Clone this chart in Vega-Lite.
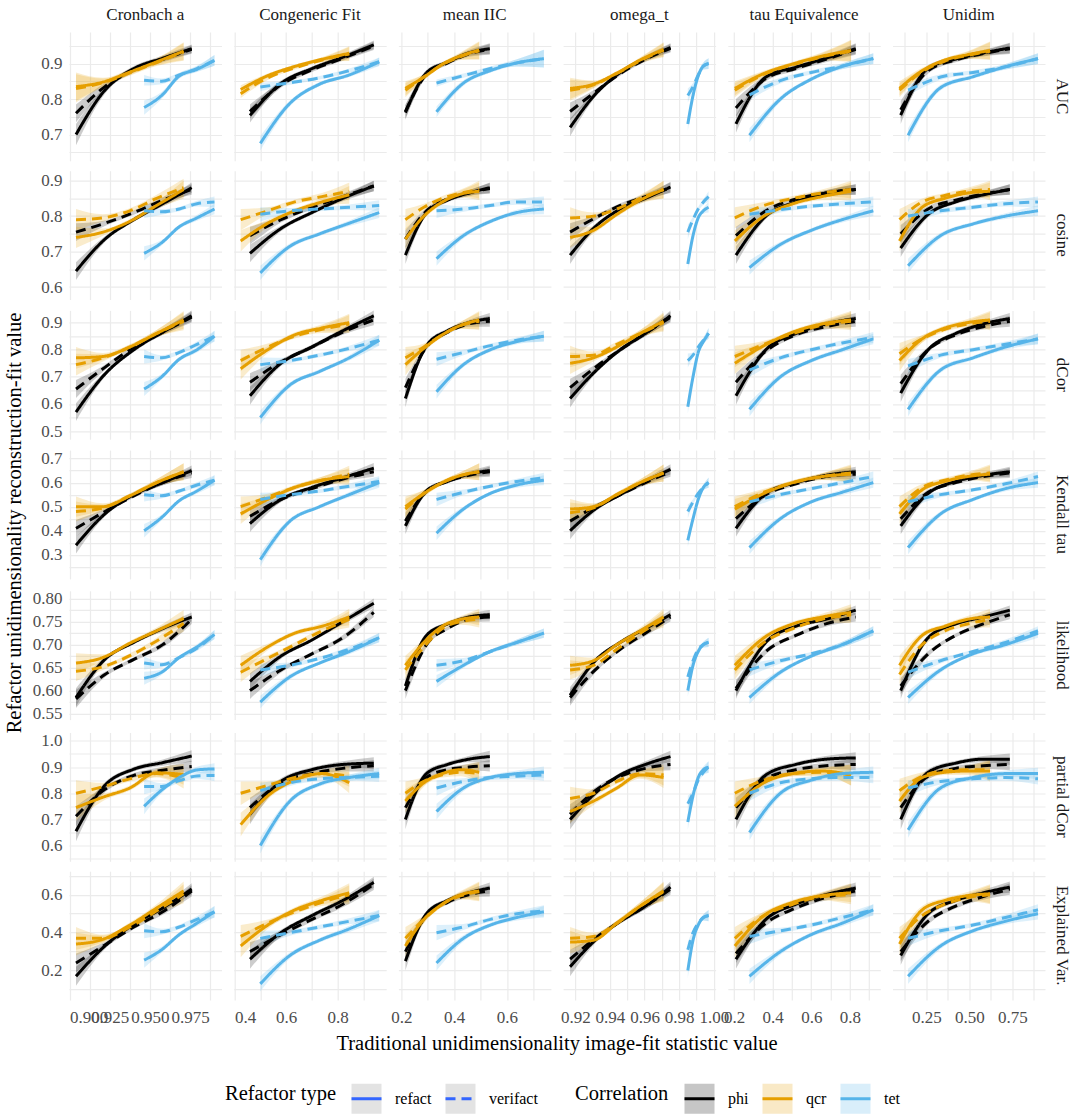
{
  "$schema": "https://vega.github.io/schema/vega-lite/v6.json",
  "background": "white",
  "padding": {"left": 4, "top": 6, "right": 0, "bottom": 0},
  "title": {"text": "Refactor unidimensionality reconstruction-fit value", "orient": "left", "anchor": "middle", "font": "Liberation Serif", "fontSize": 20.5, "fontWeight": "normal", "color": "#000000", "offset": 4, "dx": 40},
  "config": {
    "font": "Liberation Serif",
    "view": {"stroke": null},
    "axis": {"domain": false, "ticks": false, "grid": true, "gridColor": "#EBEBEB", "gridWidth": 1.2, "labelFont": "Liberation Serif", "labelFontSize": 17, "labelColor": "#4D4D4D", "title": null},
    "header": {"labelFont": "Liberation Serif", "labelFontSize": 17, "labelColor": "#1A1A1A", "titleFont": "Liberation Serif", "titleFontSize": 20.5, "titleFontWeight": "normal", "titleColor": "#000000"},
    "legend": {"direction": "horizontal", "titleOrient": "left", "titleFont": "Liberation Serif", "titleFontSize": 20.5, "titleFontWeight": "normal", "titleColor": "#000000", "titlePadding": 14, "labelFont": "Liberation Serif", "labelFontSize": 16, "labelColor": "#000000", "labelOffset": 12, "symbolType": "stroke", "symbolStrokeWidth": 3, "symbolSize": 900, "symbolOpacity": 1, "columnPadding": 7}
  },
  "datasets": {
    "xs": [
      {"ck": "Cronbach a|phi", "x": [0.904, 0.922, 0.94, 0.958, 0.976]},
      {"ck": "Cronbach a|qcr", "x": [0.904, 0.9208, 0.9375, 0.9542, 0.971]},
      {"ck": "Cronbach a|tet", "x": [0.9464, 0.9573, 0.9683, 0.9793, 0.9902]},
      {"ck": "Congeneric Fit|phi", "x": [0.46, 0.58, 0.7, 0.82, 0.94]},
      {"ck": "Congeneric Fit|qcr", "x": [0.424, 0.529, 0.634, 0.739, 0.845]},
      {"ck": "Congeneric Fit|tet", "x": [0.5, 0.615, 0.73, 0.845, 0.961]},
      {"ck": "mean IIC|phi", "x": [0.215, 0.295, 0.375, 0.455, 0.535]},
      {"ck": "mean IIC|qcr", "x": [0.215, 0.285, 0.355, 0.425, 0.495]},
      {"ck": "mean IIC|tet", "x": [0.333, 0.435, 0.537, 0.638, 0.74]},
      {"ck": "omega_t|phi", "x": [0.917, 0.9315, 0.946, 0.9605, 0.975]},
      {"ck": "omega_t|qcr", "x": [0.917, 0.9305, 0.944, 0.9575, 0.971]},
      {"ck": "omega_t|tet", "x": [0.985, 0.988, 0.991, 0.994, 0.997]},
      {"ck": "tau Equivalence|phi", "x": [0.21, 0.365, 0.52, 0.675, 0.83]},
      {"ck": "tau Equivalence|qcr", "x": [0.204, 0.355, 0.505, 0.655, 0.806]},
      {"ck": "tau Equivalence|tet", "x": [0.28, 0.44, 0.6, 0.76, 0.921]},
      {"ck": "Unidim|phi", "x": [0.1, 0.26, 0.42, 0.58, 0.735]},
      {"ck": "Unidim|qcr", "x": [0.093, 0.225, 0.357, 0.489, 0.62]},
      {"ck": "Unidim|tet", "x": [0.143, 0.332, 0.521, 0.71, 0.899]}
    ],
    "lines": [
      {"r": "AUC", "c": "Cronbach a", "k": "phi", "t": "refact", "ck": "Cronbach a|phi", "y": [0.7, 0.825, 0.886, 0.915, 0.942], "w": [0.03, 0.01, 0.007, 0.008, 0.012]},
      {"r": "AUC", "c": "Cronbach a", "k": "phi", "t": "verifact", "ck": "Cronbach a|phi", "y": [0.76, 0.835, 0.882, 0.912, 0.94], "w": [0.025, 0.01, 0.007, 0.008, 0.012]},
      {"r": "AUC", "c": "Cronbach a", "k": "qcr", "t": "refact", "ck": "Cronbach a|qcr", "y": [0.835, 0.848, 0.876, 0.905, 0.935], "w": [0.04, 0.012, 0.008, 0.01, 0.025]},
      {"r": "AUC", "c": "Cronbach a", "k": "qcr", "t": "verifact", "ck": "Cronbach a|qcr", "y": [0.83, 0.846, 0.874, 0.903, 0.933], "w": [0.04, 0.012, 0.008, 0.01, 0.025]},
      {"r": "AUC", "c": "Cronbach a", "k": "tet", "t": "refact", "ck": "Cronbach a|tet", "y": [0.776, 0.81, 0.865, 0.884, 0.909], "w": [0.02, 0.01, 0.008, 0.008, 0.015]},
      {"r": "AUC", "c": "Cronbach a", "k": "tet", "t": "verifact", "ck": "Cronbach a|tet", "y": [0.853, 0.85, 0.868, 0.886, 0.909], "w": [0.015, 0.008, 0.006, 0.008, 0.015]},
      {"r": "AUC", "c": "Congeneric Fit", "k": "phi", "t": "refact", "ck": "Congeneric Fit|phi", "y": [0.754, 0.844, 0.886, 0.918, 0.953], "w": [0.02, 0.008, 0.006, 0.007, 0.012]},
      {"r": "AUC", "c": "Congeneric Fit", "k": "phi", "t": "verifact", "ck": "Congeneric Fit|phi", "y": [0.765, 0.84, 0.882, 0.915, 0.95], "w": [0.02, 0.008, 0.006, 0.007, 0.012]},
      {"r": "AUC", "c": "Congeneric Fit", "k": "qcr", "t": "refact", "ck": "Congeneric Fit|qcr", "y": [0.827, 0.866, 0.892, 0.912, 0.929], "w": [0.012, 0.006, 0.005, 0.006, 0.02]},
      {"r": "AUC", "c": "Congeneric Fit", "k": "qcr", "t": "verifact", "ck": "Congeneric Fit|qcr", "y": [0.815, 0.86, 0.888, 0.91, 0.927], "w": [0.012, 0.006, 0.005, 0.006, 0.02]},
      {"r": "AUC", "c": "Congeneric Fit", "k": "tet", "t": "refact", "ck": "Congeneric Fit|tet", "y": [0.675, 0.788, 0.842, 0.868, 0.905], "w": [0.02, 0.008, 0.006, 0.006, 0.012]},
      {"r": "AUC", "c": "Congeneric Fit", "k": "tet", "t": "verifact", "ck": "Congeneric Fit|tet", "y": [0.834, 0.846, 0.86, 0.88, 0.905], "w": [0.012, 0.006, 0.005, 0.006, 0.012]},
      {"r": "AUC", "c": "mean IIC", "k": "phi", "t": "refact", "ck": "mean IIC|phi", "y": [0.762, 0.874, 0.904, 0.93, 0.942], "w": [0.02, 0.008, 0.006, 0.008, 0.015]},
      {"r": "AUC", "c": "mean IIC", "k": "phi", "t": "verifact", "ck": "mean IIC|phi", "y": [0.765, 0.87, 0.902, 0.927, 0.94], "w": [0.02, 0.008, 0.006, 0.008, 0.015]},
      {"r": "AUC", "c": "mean IIC", "k": "qcr", "t": "refact", "ck": "mean IIC|qcr", "y": [0.83, 0.862, 0.898, 0.922, 0.938], "w": [0.02, 0.008, 0.006, 0.01, 0.025]},
      {"r": "AUC", "c": "mean IIC", "k": "qcr", "t": "verifact", "ck": "mean IIC|qcr", "y": [0.825, 0.862, 0.897, 0.92, 0.936], "w": [0.02, 0.008, 0.006, 0.01, 0.025]},
      {"r": "AUC", "c": "mean IIC", "k": "tet", "t": "refact", "ck": "mean IIC|tet", "y": [0.764, 0.845, 0.88, 0.902, 0.914], "w": [0.015, 0.008, 0.006, 0.01, 0.025]},
      {"r": "AUC", "c": "mean IIC", "k": "tet", "t": "verifact", "ck": "mean IIC|tet", "y": [0.845, 0.866, 0.886, 0.902, 0.914], "w": [0.01, 0.006, 0.006, 0.01, 0.025]},
      {"r": "AUC", "c": "omega_t", "k": "phi", "t": "refact", "ck": "omega_t|phi", "y": [0.72, 0.813, 0.875, 0.915, 0.945], "w": [0.025, 0.008, 0.006, 0.007, 0.012]},
      {"r": "AUC", "c": "omega_t", "k": "phi", "t": "verifact", "ck": "omega_t|phi", "y": [0.765, 0.82, 0.872, 0.912, 0.943], "w": [0.025, 0.008, 0.006, 0.007, 0.012]},
      {"r": "AUC", "c": "omega_t", "k": "qcr", "t": "refact", "ck": "omega_t|qcr", "y": [0.83, 0.842, 0.873, 0.91, 0.94], "w": [0.03, 0.01, 0.006, 0.008, 0.02]},
      {"r": "AUC", "c": "omega_t", "k": "qcr", "t": "verifact", "ck": "omega_t|qcr", "y": [0.825, 0.84, 0.872, 0.908, 0.938], "w": [0.03, 0.01, 0.006, 0.008, 0.02]},
      {"r": "AUC", "c": "omega_t", "k": "tet", "t": "refact", "ck": "omega_t|tet", "y": [0.73, 0.81, 0.865, 0.893, 0.9], "w": [0.02, 0.01, 0.01, 0.01, 0.015]},
      {"r": "AUC", "c": "omega_t", "k": "tet", "t": "verifact", "ck": "omega_t|tet", "y": [0.81, 0.835, 0.868, 0.893, 0.9], "w": [0.02, 0.01, 0.01, 0.01, 0.015]},
      {"r": "AUC", "c": "tau Equivalence", "k": "phi", "t": "refact", "ck": "tau Equivalence|phi", "y": [0.73, 0.862, 0.89, 0.915, 0.942], "w": [0.025, 0.008, 0.006, 0.008, 0.015]},
      {"r": "AUC", "c": "tau Equivalence", "k": "phi", "t": "verifact", "ck": "tau Equivalence|phi", "y": [0.775, 0.858, 0.886, 0.912, 0.94], "w": [0.025, 0.008, 0.006, 0.008, 0.015]},
      {"r": "AUC", "c": "tau Equivalence", "k": "qcr", "t": "refact", "ck": "tau Equivalence|qcr", "y": [0.83, 0.872, 0.899, 0.921, 0.937], "w": [0.02, 0.008, 0.006, 0.01, 0.03]},
      {"r": "AUC", "c": "tau Equivalence", "k": "qcr", "t": "verifact", "ck": "tau Equivalence|qcr", "y": [0.825, 0.87, 0.897, 0.919, 0.935], "w": [0.02, 0.008, 0.006, 0.01, 0.03]},
      {"r": "AUC", "c": "tau Equivalence", "k": "tet", "t": "refact", "ck": "tau Equivalence|tet", "y": [0.698, 0.8, 0.856, 0.892, 0.914], "w": [0.02, 0.008, 0.006, 0.008, 0.015]},
      {"r": "AUC", "c": "tau Equivalence", "k": "tet", "t": "verifact", "ck": "tau Equivalence|tet", "y": [0.812, 0.852, 0.875, 0.893, 0.914], "w": [0.015, 0.008, 0.006, 0.008, 0.015]},
      {"r": "AUC", "c": "Unidim", "k": "phi", "t": "refact", "ck": "Unidim|phi", "y": [0.755, 0.887, 0.913, 0.93, 0.944], "w": [0.025, 0.008, 0.006, 0.008, 0.015]},
      {"r": "AUC", "c": "Unidim", "k": "phi", "t": "verifact", "ck": "Unidim|phi", "y": [0.77, 0.88, 0.91, 0.928, 0.942], "w": [0.025, 0.008, 0.006, 0.008, 0.015]},
      {"r": "AUC", "c": "Unidim", "k": "qcr", "t": "refact", "ck": "Unidim|qcr", "y": [0.83, 0.88, 0.91, 0.925, 0.937], "w": [0.02, 0.008, 0.006, 0.01, 0.025]},
      {"r": "AUC", "c": "Unidim", "k": "qcr", "t": "verifact", "ck": "Unidim|qcr", "y": [0.825, 0.877, 0.907, 0.923, 0.935], "w": [0.02, 0.008, 0.006, 0.01, 0.025]},
      {"r": "AUC", "c": "Unidim", "k": "tet", "t": "refact", "ck": "Unidim|tet", "y": [0.698, 0.832, 0.863, 0.891, 0.914], "w": [0.02, 0.008, 0.006, 0.008, 0.015]},
      {"r": "AUC", "c": "Unidim", "k": "tet", "t": "verifact", "ck": "Unidim|tet", "y": [0.825, 0.862, 0.875, 0.891, 0.914], "w": [0.015, 0.008, 0.006, 0.008, 0.015]},

      {"r": "cosine", "c": "Cronbach a", "k": "phi", "t": "refact", "ck": "Cronbach a|phi", "y": [0.645, 0.735, 0.79, 0.835, 0.88], "w": [0.025, 0.008, 0.006, 0.008, 0.015]},
      {"r": "cosine", "c": "Cronbach a", "k": "phi", "t": "verifact", "ck": "Cronbach a|phi", "y": [0.755, 0.78, 0.81, 0.845, 0.875], "w": [0.025, 0.008, 0.006, 0.008, 0.015]},
      {"r": "cosine", "c": "Cronbach a", "k": "qcr", "t": "refact", "ck": "Cronbach a|qcr", "y": [0.74, 0.755, 0.785, 0.83, 0.875], "w": [0.03, 0.01, 0.007, 0.01, 0.025]},
      {"r": "cosine", "c": "Cronbach a", "k": "qcr", "t": "verifact", "ck": "Cronbach a|qcr", "y": [0.79, 0.795, 0.815, 0.85, 0.88], "w": [0.03, 0.01, 0.007, 0.01, 0.025]},
      {"r": "cosine", "c": "Cronbach a", "k": "tet", "t": "refact", "ck": "Cronbach a|tet", "y": [0.695, 0.725, 0.77, 0.795, 0.82], "w": [0.02, 0.008, 0.006, 0.008, 0.015]},
      {"r": "cosine", "c": "Cronbach a", "k": "tet", "t": "verifact", "ck": "Cronbach a|tet", "y": [0.815, 0.812, 0.82, 0.835, 0.84], "w": [0.02, 0.008, 0.006, 0.008, 0.015]},
      {"r": "cosine", "c": "Congeneric Fit", "k": "phi", "t": "refact", "ck": "Congeneric Fit|phi", "y": [0.695, 0.765, 0.81, 0.85, 0.885], "w": [0.025, 0.008, 0.006, 0.008, 0.015]},
      {"r": "cosine", "c": "Congeneric Fit", "k": "phi", "t": "verifact", "ck": "Congeneric Fit|phi", "y": [0.745, 0.79, 0.825, 0.855, 0.885], "w": [0.025, 0.008, 0.006, 0.008, 0.015]},
      {"r": "cosine", "c": "Congeneric Fit", "k": "qcr", "t": "refact", "ck": "Congeneric Fit|qcr", "y": [0.73, 0.78, 0.815, 0.84, 0.86], "w": [0.03, 0.01, 0.007, 0.01, 0.025]},
      {"r": "cosine", "c": "Congeneric Fit", "k": "qcr", "t": "verifact", "ck": "Congeneric Fit|qcr", "y": [0.79, 0.815, 0.84, 0.855, 0.87], "w": [0.03, 0.01, 0.007, 0.01, 0.025]},
      {"r": "cosine", "c": "Congeneric Fit", "k": "tet", "t": "refact", "ck": "Congeneric Fit|tet", "y": [0.64, 0.715, 0.75, 0.78, 0.81], "w": [0.02, 0.008, 0.006, 0.008, 0.015]},
      {"r": "cosine", "c": "Congeneric Fit", "k": "tet", "t": "verifact", "ck": "Congeneric Fit|tet", "y": [0.805, 0.815, 0.82, 0.825, 0.83], "w": [0.02, 0.008, 0.006, 0.008, 0.015]},
      {"r": "cosine", "c": "mean IIC", "k": "phi", "t": "refact", "ck": "mean IIC|phi", "y": [0.69, 0.81, 0.845, 0.865, 0.88], "w": [0.025, 0.008, 0.006, 0.008, 0.015]},
      {"r": "cosine", "c": "mean IIC", "k": "phi", "t": "verifact", "ck": "mean IIC|phi", "y": [0.735, 0.815, 0.848, 0.865, 0.878], "w": [0.025, 0.008, 0.006, 0.008, 0.015]},
      {"r": "cosine", "c": "mean IIC", "k": "qcr", "t": "refact", "ck": "mean IIC|qcr", "y": [0.735, 0.8, 0.84, 0.862, 0.87], "w": [0.03, 0.01, 0.007, 0.01, 0.025]},
      {"r": "cosine", "c": "mean IIC", "k": "qcr", "t": "verifact", "ck": "mean IIC|qcr", "y": [0.79, 0.825, 0.85, 0.865, 0.875], "w": [0.03, 0.01, 0.007, 0.01, 0.025]},
      {"r": "cosine", "c": "mean IIC", "k": "tet", "t": "refact", "ck": "mean IIC|tet", "y": [0.68, 0.745, 0.785, 0.81, 0.82], "w": [0.02, 0.008, 0.006, 0.008, 0.015]},
      {"r": "cosine", "c": "mean IIC", "k": "tet", "t": "verifact", "ck": "mean IIC|tet", "y": [0.815, 0.82, 0.83, 0.84, 0.84], "w": [0.02, 0.008, 0.006, 0.008, 0.015]},
      {"r": "cosine", "c": "omega_t", "k": "phi", "t": "refact", "ck": "omega_t|phi", "y": [0.69, 0.77, 0.82, 0.85, 0.882], "w": [0.025, 0.008, 0.006, 0.008, 0.015]},
      {"r": "cosine", "c": "omega_t", "k": "phi", "t": "verifact", "ck": "omega_t|phi", "y": [0.755, 0.795, 0.83, 0.855, 0.88], "w": [0.025, 0.008, 0.006, 0.008, 0.015]},
      {"r": "cosine", "c": "omega_t", "k": "qcr", "t": "refact", "ck": "omega_t|qcr", "y": [0.74, 0.76, 0.805, 0.845, 0.875], "w": [0.03, 0.01, 0.007, 0.01, 0.025]},
      {"r": "cosine", "c": "omega_t", "k": "qcr", "t": "verifact", "ck": "omega_t|qcr", "y": [0.795, 0.8, 0.82, 0.85, 0.875], "w": [0.03, 0.01, 0.007, 0.01, 0.025]},
      {"r": "cosine", "c": "omega_t", "k": "tet", "t": "refact", "ck": "omega_t|tet", "y": [0.665, 0.745, 0.795, 0.815, 0.825], "w": [0.02, 0.008, 0.006, 0.008, 0.015]},
      {"r": "cosine", "c": "omega_t", "k": "tet", "t": "verifact", "ck": "omega_t|tet", "y": [0.755, 0.79, 0.82, 0.84, 0.855], "w": [0.02, 0.008, 0.006, 0.008, 0.015]},
      {"r": "cosine", "c": "tau Equivalence", "k": "phi", "t": "refact", "ck": "tau Equivalence|phi", "y": [0.69, 0.8, 0.84, 0.865, 0.875], "w": [0.025, 0.008, 0.006, 0.008, 0.015]},
      {"r": "cosine", "c": "tau Equivalence", "k": "phi", "t": "verifact", "ck": "tau Equivalence|phi", "y": [0.745, 0.815, 0.848, 0.865, 0.875], "w": [0.025, 0.008, 0.006, 0.008, 0.015]},
      {"r": "cosine", "c": "tau Equivalence", "k": "qcr", "t": "refact", "ck": "tau Equivalence|qcr", "y": [0.73, 0.8, 0.835, 0.855, 0.87], "w": [0.03, 0.01, 0.007, 0.01, 0.025]},
      {"r": "cosine", "c": "tau Equivalence", "k": "qcr", "t": "verifact", "ck": "tau Equivalence|qcr", "y": [0.795, 0.83, 0.85, 0.865, 0.875], "w": [0.03, 0.01, 0.007, 0.01, 0.025]},
      {"r": "cosine", "c": "tau Equivalence", "k": "tet", "t": "refact", "ck": "tau Equivalence|tet", "y": [0.655, 0.72, 0.76, 0.79, 0.815], "w": [0.02, 0.008, 0.006, 0.008, 0.015]},
      {"r": "cosine", "c": "tau Equivalence", "k": "tet", "t": "verifact", "ck": "tau Equivalence|tet", "y": [0.805, 0.818, 0.828, 0.835, 0.84], "w": [0.02, 0.008, 0.006, 0.008, 0.015]},
      {"r": "cosine", "c": "Unidim", "k": "phi", "t": "refact", "ck": "Unidim|phi", "y": [0.71, 0.805, 0.84, 0.86, 0.875], "w": [0.025, 0.008, 0.006, 0.008, 0.015]},
      {"r": "cosine", "c": "Unidim", "k": "phi", "t": "verifact", "ck": "Unidim|phi", "y": [0.75, 0.82, 0.845, 0.862, 0.875], "w": [0.025, 0.008, 0.006, 0.008, 0.015]},
      {"r": "cosine", "c": "Unidim", "k": "qcr", "t": "refact", "ck": "Unidim|qcr", "y": [0.73, 0.825, 0.85, 0.865, 0.87], "w": [0.03, 0.01, 0.007, 0.01, 0.025]},
      {"r": "cosine", "c": "Unidim", "k": "qcr", "t": "verifact", "ck": "Unidim|qcr", "y": [0.79, 0.84, 0.858, 0.87, 0.875], "w": [0.03, 0.01, 0.007, 0.01, 0.025]},
      {"r": "cosine", "c": "Unidim", "k": "tet", "t": "refact", "ck": "Unidim|tet", "y": [0.66, 0.745, 0.778, 0.8, 0.815], "w": [0.02, 0.008, 0.006, 0.008, 0.015]},
      {"r": "cosine", "c": "Unidim", "k": "tet", "t": "verifact", "ck": "Unidim|tet", "y": [0.8, 0.815, 0.825, 0.835, 0.84], "w": [0.02, 0.008, 0.006, 0.008, 0.015]},

      {"r": "dCor", "c": "Cronbach a", "k": "phi", "t": "refact", "ck": "Cronbach a|phi", "y": [0.57, 0.71, 0.8, 0.865, 0.925], "w": [0.033, 0.01, 0.008, 0.01, 0.02]},
      {"r": "dCor", "c": "Cronbach a", "k": "phi", "t": "verifact", "ck": "Cronbach a|phi", "y": [0.655, 0.735, 0.81, 0.865, 0.92], "w": [0.033, 0.01, 0.008, 0.01, 0.02]},
      {"r": "dCor", "c": "Cronbach a", "k": "qcr", "t": "refact", "ck": "Cronbach a|qcr", "y": [0.77, 0.775, 0.81, 0.86, 0.91], "w": [0.04, 0.013, 0.009, 0.013, 0.033]},
      {"r": "dCor", "c": "Cronbach a", "k": "qcr", "t": "verifact", "ck": "Cronbach a|qcr", "y": [0.745, 0.77, 0.81, 0.86, 0.905], "w": [0.04, 0.013, 0.009, 0.013, 0.033]},
      {"r": "dCor", "c": "Cronbach a", "k": "tet", "t": "refact", "ck": "Cronbach a|tet", "y": [0.655, 0.7, 0.765, 0.8, 0.85], "w": [0.026, 0.01, 0.008, 0.01, 0.02]},
      {"r": "dCor", "c": "Cronbach a", "k": "tet", "t": "verifact", "ck": "Cronbach a|tet", "y": [0.775, 0.77, 0.79, 0.82, 0.85], "w": [0.026, 0.01, 0.008, 0.01, 0.02]},
      {"r": "dCor", "c": "Congeneric Fit", "k": "phi", "t": "refact", "ck": "Congeneric Fit|phi", "y": [0.63, 0.75, 0.81, 0.87, 0.925], "w": [0.033, 0.01, 0.008, 0.01, 0.02]},
      {"r": "dCor", "c": "Congeneric Fit", "k": "phi", "t": "verifact", "ck": "Congeneric Fit|phi", "y": [0.68, 0.755, 0.81, 0.865, 0.91], "w": [0.033, 0.01, 0.008, 0.01, 0.02]},
      {"r": "dCor", "c": "Congeneric Fit", "k": "qcr", "t": "refact", "ck": "Congeneric Fit|qcr", "y": [0.73, 0.8, 0.855, 0.88, 0.9], "w": [0.04, 0.013, 0.009, 0.013, 0.033]},
      {"r": "dCor", "c": "Congeneric Fit", "k": "qcr", "t": "verifact", "ck": "Congeneric Fit|qcr", "y": [0.76, 0.81, 0.85, 0.875, 0.895], "w": [0.04, 0.013, 0.009, 0.013, 0.033]},
      {"r": "dCor", "c": "Congeneric Fit", "k": "tet", "t": "refact", "ck": "Congeneric Fit|tet", "y": [0.55, 0.67, 0.72, 0.77, 0.835], "w": [0.026, 0.01, 0.008, 0.01, 0.02]},
      {"r": "dCor", "c": "Congeneric Fit", "k": "tet", "t": "verifact", "ck": "Congeneric Fit|tet", "y": [0.745, 0.76, 0.78, 0.805, 0.835], "w": [0.026, 0.01, 0.008, 0.01, 0.02]},
      {"r": "dCor", "c": "mean IIC", "k": "phi", "t": "refact", "ck": "mean IIC|phi", "y": [0.62, 0.815, 0.87, 0.9, 0.915], "w": [0.033, 0.01, 0.008, 0.01, 0.02]},
      {"r": "dCor", "c": "mean IIC", "k": "phi", "t": "verifact", "ck": "mean IIC|phi", "y": [0.66, 0.81, 0.865, 0.895, 0.905], "w": [0.033, 0.01, 0.008, 0.01, 0.02]},
      {"r": "dCor", "c": "mean IIC", "k": "qcr", "t": "refact", "ck": "mean IIC|qcr", "y": [0.745, 0.805, 0.855, 0.89, 0.91], "w": [0.04, 0.013, 0.009, 0.013, 0.033]},
      {"r": "dCor", "c": "mean IIC", "k": "qcr", "t": "verifact", "ck": "mean IIC|qcr", "y": [0.77, 0.81, 0.855, 0.89, 0.905], "w": [0.04, 0.013, 0.009, 0.013, 0.033]},
      {"r": "dCor", "c": "mean IIC", "k": "tet", "t": "refact", "ck": "mean IIC|tet", "y": [0.645, 0.745, 0.8, 0.83, 0.85], "w": [0.026, 0.01, 0.008, 0.01, 0.02]},
      {"r": "dCor", "c": "mean IIC", "k": "tet", "t": "verifact", "ck": "mean IIC|tet", "y": [0.765, 0.79, 0.815, 0.835, 0.85], "w": [0.026, 0.01, 0.008, 0.01, 0.02]},
      {"r": "dCor", "c": "omega_t", "k": "phi", "t": "refact", "ck": "omega_t|phi", "y": [0.62, 0.72, 0.8, 0.86, 0.925], "w": [0.033, 0.01, 0.008, 0.01, 0.02]},
      {"r": "dCor", "c": "omega_t", "k": "phi", "t": "verifact", "ck": "omega_t|phi", "y": [0.66, 0.735, 0.8, 0.86, 0.92], "w": [0.033, 0.01, 0.008, 0.01, 0.02]},
      {"r": "dCor", "c": "omega_t", "k": "qcr", "t": "refact", "ck": "omega_t|qcr", "y": [0.75, 0.77, 0.81, 0.86, 0.905], "w": [0.04, 0.013, 0.009, 0.013, 0.033]},
      {"r": "dCor", "c": "omega_t", "k": "qcr", "t": "verifact", "ck": "omega_t|qcr", "y": [0.775, 0.78, 0.82, 0.86, 0.9], "w": [0.04, 0.013, 0.009, 0.013, 0.033]},
      {"r": "dCor", "c": "omega_t", "k": "tet", "t": "refact", "ck": "omega_t|tet", "y": [0.59, 0.7, 0.79, 0.83, 0.86], "w": [0.026, 0.01, 0.008, 0.01, 0.02]},
      {"r": "dCor", "c": "omega_t", "k": "tet", "t": "verifact", "ck": "omega_t|tet", "y": [0.76, 0.78, 0.81, 0.835, 0.86], "w": [0.026, 0.01, 0.008, 0.01, 0.02]},
      {"r": "dCor", "c": "tau Equivalence", "k": "phi", "t": "refact", "ck": "tau Equivalence|phi", "y": [0.63, 0.8, 0.86, 0.895, 0.915], "w": [0.033, 0.01, 0.008, 0.01, 0.02]},
      {"r": "dCor", "c": "tau Equivalence", "k": "phi", "t": "verifact", "ck": "tau Equivalence|phi", "y": [0.68, 0.795, 0.855, 0.885, 0.905], "w": [0.033, 0.01, 0.008, 0.01, 0.02]},
      {"r": "dCor", "c": "tau Equivalence", "k": "qcr", "t": "refact", "ck": "tau Equivalence|qcr", "y": [0.75, 0.815, 0.865, 0.895, 0.91], "w": [0.04, 0.013, 0.009, 0.013, 0.033]},
      {"r": "dCor", "c": "tau Equivalence", "k": "qcr", "t": "verifact", "ck": "tau Equivalence|qcr", "y": [0.775, 0.82, 0.86, 0.89, 0.905], "w": [0.04, 0.013, 0.009, 0.013, 0.033]},
      {"r": "dCor", "c": "tau Equivalence", "k": "tet", "t": "refact", "ck": "tau Equivalence|tet", "y": [0.58, 0.7, 0.76, 0.8, 0.84], "w": [0.026, 0.01, 0.008, 0.01, 0.02]},
      {"r": "dCor", "c": "tau Equivalence", "k": "tet", "t": "verifact", "ck": "tau Equivalence|tet", "y": [0.725, 0.77, 0.8, 0.825, 0.845], "w": [0.026, 0.01, 0.008, 0.01, 0.02]},
      {"r": "dCor", "c": "Unidim", "k": "phi", "t": "refact", "ck": "Unidim|phi", "y": [0.64, 0.8, 0.86, 0.895, 0.915], "w": [0.033, 0.01, 0.008, 0.01, 0.02]},
      {"r": "dCor", "c": "Unidim", "k": "phi", "t": "verifact", "ck": "Unidim|phi", "y": [0.675, 0.8, 0.855, 0.885, 0.905], "w": [0.033, 0.01, 0.008, 0.01, 0.02]},
      {"r": "dCor", "c": "Unidim", "k": "qcr", "t": "refact", "ck": "Unidim|qcr", "y": [0.76, 0.84, 0.88, 0.9, 0.91], "w": [0.04, 0.013, 0.009, 0.013, 0.033]},
      {"r": "dCor", "c": "Unidim", "k": "qcr", "t": "verifact", "ck": "Unidim|qcr", "y": [0.785, 0.84, 0.875, 0.895, 0.905], "w": [0.04, 0.013, 0.009, 0.013, 0.033]},
      {"r": "dCor", "c": "Unidim", "k": "tet", "t": "refact", "ck": "Unidim|tet", "y": [0.58, 0.725, 0.77, 0.81, 0.84], "w": [0.026, 0.01, 0.008, 0.01, 0.02]},
      {"r": "dCor", "c": "Unidim", "k": "tet", "t": "verifact", "ck": "Unidim|tet", "y": [0.74, 0.78, 0.8, 0.82, 0.84], "w": [0.026, 0.01, 0.008, 0.01, 0.02]},

      {"r": "Kendall tau", "c": "Cronbach a", "k": "phi", "t": "refact", "ck": "Cronbach a|phi", "y": [0.34, 0.47, 0.55, 0.6, 0.65], "w": [0.035, 0.011, 0.008, 0.011, 0.021]},
      {"r": "Kendall tau", "c": "Cronbach a", "k": "phi", "t": "verifact", "ck": "Cronbach a|phi", "y": [0.41, 0.48, 0.545, 0.6, 0.64], "w": [0.035, 0.011, 0.008, 0.011, 0.021]},
      {"r": "Kendall tau", "c": "Cronbach a", "k": "qcr", "t": "refact", "ck": "Cronbach a|qcr", "y": [0.5, 0.5, 0.545, 0.6, 0.645], "w": [0.042, 0.014, 0.01, 0.014, 0.035]},
      {"r": "Kendall tau", "c": "Cronbach a", "k": "qcr", "t": "verifact", "ck": "Cronbach a|qcr", "y": [0.48, 0.495, 0.545, 0.6, 0.645], "w": [0.042, 0.014, 0.01, 0.014, 0.035]},
      {"r": "Kendall tau", "c": "Cronbach a", "k": "tet", "t": "refact", "ck": "Cronbach a|tet", "y": [0.4, 0.455, 0.525, 0.565, 0.61], "w": [0.028, 0.011, 0.008, 0.011, 0.021]},
      {"r": "Kendall tau", "c": "Cronbach a", "k": "tet", "t": "verifact", "ck": "Cronbach a|tet", "y": [0.55, 0.545, 0.565, 0.59, 0.61], "w": [0.028, 0.011, 0.008, 0.011, 0.021]},
      {"r": "Kendall tau", "c": "Congeneric Fit", "k": "phi", "t": "refact", "ck": "Congeneric Fit|phi", "y": [0.43, 0.53, 0.58, 0.62, 0.66], "w": [0.035, 0.011, 0.008, 0.011, 0.021]},
      {"r": "Kendall tau", "c": "Congeneric Fit", "k": "phi", "t": "verifact", "ck": "Congeneric Fit|phi", "y": [0.46, 0.53, 0.575, 0.615, 0.645], "w": [0.035, 0.011, 0.008, 0.011, 0.021]},
      {"r": "Kendall tau", "c": "Congeneric Fit", "k": "qcr", "t": "refact", "ck": "Congeneric Fit|qcr", "y": [0.47, 0.53, 0.58, 0.61, 0.625], "w": [0.042, 0.014, 0.01, 0.014, 0.035]},
      {"r": "Kendall tau", "c": "Congeneric Fit", "k": "qcr", "t": "verifact", "ck": "Congeneric Fit|qcr", "y": [0.5, 0.54, 0.58, 0.61, 0.635], "w": [0.042, 0.014, 0.01, 0.014, 0.035]},
      {"r": "Kendall tau", "c": "Congeneric Fit", "k": "tet", "t": "refact", "ck": "Congeneric Fit|tet", "y": [0.28, 0.44, 0.5, 0.55, 0.6], "w": [0.028, 0.011, 0.008, 0.011, 0.021]},
      {"r": "Kendall tau", "c": "Congeneric Fit", "k": "tet", "t": "verifact", "ck": "Congeneric Fit|tet", "y": [0.53, 0.55, 0.565, 0.585, 0.605], "w": [0.028, 0.011, 0.008, 0.011, 0.021]},
      {"r": "Kendall tau", "c": "mean IIC", "k": "phi", "t": "refact", "ck": "mean IIC|phi", "y": [0.42, 0.565, 0.605, 0.635, 0.65], "w": [0.035, 0.011, 0.008, 0.011, 0.021]},
      {"r": "Kendall tau", "c": "mean IIC", "k": "phi", "t": "verifact", "ck": "mean IIC|phi", "y": [0.44, 0.565, 0.605, 0.63, 0.645], "w": [0.035, 0.011, 0.008, 0.011, 0.021]},
      {"r": "Kendall tau", "c": "mean IIC", "k": "qcr", "t": "refact", "ck": "mean IIC|qcr", "y": [0.5, 0.555, 0.6, 0.63, 0.645], "w": [0.042, 0.014, 0.01, 0.014, 0.035]},
      {"r": "Kendall tau", "c": "mean IIC", "k": "qcr", "t": "verifact", "ck": "mean IIC|qcr", "y": [0.49, 0.555, 0.6, 0.63, 0.645], "w": [0.042, 0.014, 0.01, 0.014, 0.035]},
      {"r": "Kendall tau", "c": "mean IIC", "k": "tet", "t": "refact", "ck": "mean IIC|tet", "y": [0.39, 0.49, 0.555, 0.59, 0.61], "w": [0.028, 0.011, 0.008, 0.011, 0.021]},
      {"r": "Kendall tau", "c": "mean IIC", "k": "tet", "t": "verifact", "ck": "mean IIC|tet", "y": [0.53, 0.56, 0.585, 0.605, 0.62], "w": [0.028, 0.011, 0.008, 0.011, 0.021]},
      {"r": "Kendall tau", "c": "omega_t", "k": "phi", "t": "refact", "ck": "omega_t|phi", "y": [0.4, 0.49, 0.55, 0.605, 0.655], "w": [0.035, 0.011, 0.008, 0.011, 0.021]},
      {"r": "Kendall tau", "c": "omega_t", "k": "phi", "t": "verifact", "ck": "omega_t|phi", "y": [0.44, 0.5, 0.55, 0.6, 0.645], "w": [0.035, 0.011, 0.008, 0.011, 0.021]},
      {"r": "Kendall tau", "c": "omega_t", "k": "qcr", "t": "refact", "ck": "omega_t|qcr", "y": [0.49, 0.5, 0.55, 0.6, 0.64], "w": [0.042, 0.014, 0.01, 0.014, 0.035]},
      {"r": "Kendall tau", "c": "omega_t", "k": "qcr", "t": "verifact", "ck": "omega_t|qcr", "y": [0.475, 0.495, 0.55, 0.6, 0.64], "w": [0.042, 0.014, 0.01, 0.014, 0.035]},
      {"r": "Kendall tau", "c": "omega_t", "k": "tet", "t": "refact", "ck": "omega_t|tet", "y": [0.36, 0.45, 0.53, 0.58, 0.6], "w": [0.028, 0.011, 0.008, 0.011, 0.021]},
      {"r": "Kendall tau", "c": "omega_t", "k": "tet", "t": "verifact", "ck": "omega_t|tet", "y": [0.48, 0.52, 0.555, 0.58, 0.6], "w": [0.028, 0.011, 0.008, 0.011, 0.021]},
      {"r": "Kendall tau", "c": "tau Equivalence", "k": "phi", "t": "refact", "ck": "tau Equivalence|phi", "y": [0.41, 0.555, 0.6, 0.63, 0.645], "w": [0.035, 0.011, 0.008, 0.011, 0.021]},
      {"r": "Kendall tau", "c": "tau Equivalence", "k": "phi", "t": "verifact", "ck": "tau Equivalence|phi", "y": [0.45, 0.55, 0.595, 0.625, 0.635], "w": [0.035, 0.011, 0.008, 0.011, 0.021]},
      {"r": "Kendall tau", "c": "tau Equivalence", "k": "qcr", "t": "refact", "ck": "tau Equivalence|qcr", "y": [0.49, 0.555, 0.6, 0.625, 0.635], "w": [0.042, 0.014, 0.01, 0.014, 0.035]},
      {"r": "Kendall tau", "c": "tau Equivalence", "k": "qcr", "t": "verifact", "ck": "tau Equivalence|qcr", "y": [0.5, 0.56, 0.6, 0.625, 0.64], "w": [0.042, 0.014, 0.01, 0.014, 0.035]},
      {"r": "Kendall tau", "c": "tau Equivalence", "k": "tet", "t": "refact", "ck": "tau Equivalence|tet", "y": [0.33, 0.45, 0.52, 0.56, 0.6], "w": [0.028, 0.011, 0.008, 0.011, 0.021]},
      {"r": "Kendall tau", "c": "tau Equivalence", "k": "tet", "t": "verifact", "ck": "tau Equivalence|tet", "y": [0.52, 0.55, 0.575, 0.6, 0.625], "w": [0.028, 0.011, 0.008, 0.011, 0.021]},
      {"r": "Kendall tau", "c": "Unidim", "k": "phi", "t": "refact", "ck": "Unidim|phi", "y": [0.42, 0.555, 0.605, 0.63, 0.645], "w": [0.035, 0.011, 0.008, 0.011, 0.021]},
      {"r": "Kendall tau", "c": "Unidim", "k": "phi", "t": "verifact", "ck": "Unidim|phi", "y": [0.45, 0.56, 0.6, 0.625, 0.64], "w": [0.035, 0.011, 0.008, 0.011, 0.021]},
      {"r": "Kendall tau", "c": "Unidim", "k": "qcr", "t": "refact", "ck": "Unidim|qcr", "y": [0.47, 0.57, 0.605, 0.625, 0.635], "w": [0.042, 0.014, 0.01, 0.014, 0.035]},
      {"r": "Kendall tau", "c": "Unidim", "k": "qcr", "t": "verifact", "ck": "Unidim|qcr", "y": [0.5, 0.58, 0.61, 0.63, 0.64], "w": [0.042, 0.014, 0.01, 0.014, 0.035]},
      {"r": "Kendall tau", "c": "Unidim", "k": "tet", "t": "refact", "ck": "Unidim|tet", "y": [0.33, 0.47, 0.53, 0.575, 0.6], "w": [0.028, 0.011, 0.008, 0.011, 0.021]},
      {"r": "Kendall tau", "c": "Unidim", "k": "tet", "t": "verifact", "ck": "Unidim|tet", "y": [0.52, 0.55, 0.57, 0.595, 0.625], "w": [0.028, 0.011, 0.008, 0.011, 0.021]},

      {"r": "likelihood", "c": "Cronbach a", "k": "phi", "t": "refact", "ck": "Cronbach a|phi", "y": [0.585, 0.668, 0.705, 0.735, 0.76], "w": [0.02, 0.006, 0.004, 0.006, 0.01]},
      {"r": "likelihood", "c": "Cronbach a", "k": "phi", "t": "verifact", "ck": "Cronbach a|phi", "y": [0.582, 0.635, 0.668, 0.7, 0.755], "w": [0.02, 0.006, 0.004, 0.006, 0.01]},
      {"r": "likelihood", "c": "Cronbach a", "k": "qcr", "t": "refact", "ck": "Cronbach a|qcr", "y": [0.66, 0.672, 0.703, 0.73, 0.757], "w": [0.021, 0.007, 0.005, 0.007, 0.018]},
      {"r": "likelihood", "c": "Cronbach a", "k": "qcr", "t": "verifact", "ck": "Cronbach a|qcr", "y": [0.642, 0.652, 0.676, 0.708, 0.746], "w": [0.021, 0.007, 0.005, 0.007, 0.018]},
      {"r": "likelihood", "c": "Cronbach a", "k": "tet", "t": "refact", "ck": "Cronbach a|tet", "y": [0.627, 0.64, 0.672, 0.695, 0.722], "w": [0.014, 0.006, 0.004, 0.006, 0.01]},
      {"r": "likelihood", "c": "Cronbach a", "k": "tet", "t": "verifact", "ck": "Cronbach a|tet", "y": [0.66, 0.656, 0.672, 0.692, 0.722], "w": [0.014, 0.006, 0.004, 0.006, 0.01]},
      {"r": "likelihood", "c": "Congeneric Fit", "k": "phi", "t": "refact", "ck": "Congeneric Fit|phi", "y": [0.62, 0.675, 0.71, 0.75, 0.79], "w": [0.018, 0.006, 0.004, 0.006, 0.01]},
      {"r": "likelihood", "c": "Congeneric Fit", "k": "phi", "t": "verifact", "ck": "Congeneric Fit|phi", "y": [0.6, 0.645, 0.68, 0.715, 0.77], "w": [0.018, 0.006, 0.004, 0.006, 0.01]},
      {"r": "likelihood", "c": "Congeneric Fit", "k": "qcr", "t": "refact", "ck": "Congeneric Fit|qcr", "y": [0.655, 0.695, 0.725, 0.74, 0.76], "w": [0.021, 0.007, 0.005, 0.007, 0.018]},
      {"r": "likelihood", "c": "Congeneric Fit", "k": "qcr", "t": "verifact", "ck": "Congeneric Fit|qcr", "y": [0.64, 0.67, 0.7, 0.73, 0.755], "w": [0.021, 0.007, 0.005, 0.007, 0.018]},
      {"r": "likelihood", "c": "Congeneric Fit", "k": "tet", "t": "refact", "ck": "Congeneric Fit|tet", "y": [0.575, 0.63, 0.66, 0.685, 0.715], "w": [0.014, 0.006, 0.004, 0.006, 0.01]},
      {"r": "likelihood", "c": "Congeneric Fit", "k": "tet", "t": "verifact", "ck": "Congeneric Fit|tet", "y": [0.645, 0.655, 0.67, 0.69, 0.715], "w": [0.014, 0.006, 0.004, 0.006, 0.01]},
      {"r": "likelihood", "c": "mean IIC", "k": "phi", "t": "refact", "ck": "mean IIC|phi", "y": [0.61, 0.72, 0.745, 0.76, 0.765], "w": [0.018, 0.006, 0.004, 0.006, 0.01]},
      {"r": "likelihood", "c": "mean IIC", "k": "phi", "t": "verifact", "ck": "mean IIC|phi", "y": [0.6, 0.7, 0.735, 0.755, 0.76], "w": [0.018, 0.006, 0.004, 0.006, 0.01]},
      {"r": "likelihood", "c": "mean IIC", "k": "qcr", "t": "refact", "ck": "mean IIC|qcr", "y": [0.655, 0.705, 0.74, 0.755, 0.76], "w": [0.021, 0.007, 0.005, 0.007, 0.018]},
      {"r": "likelihood", "c": "mean IIC", "k": "qcr", "t": "verifact", "ck": "mean IIC|qcr", "y": [0.645, 0.695, 0.735, 0.75, 0.755], "w": [0.021, 0.007, 0.005, 0.007, 0.018]},
      {"r": "likelihood", "c": "mean IIC", "k": "tet", "t": "refact", "ck": "mean IIC|tet", "y": [0.62, 0.655, 0.685, 0.705, 0.725], "w": [0.014, 0.006, 0.004, 0.006, 0.01]},
      {"r": "likelihood", "c": "mean IIC", "k": "tet", "t": "verifact", "ck": "mean IIC|tet", "y": [0.655, 0.665, 0.685, 0.705, 0.725], "w": [0.014, 0.006, 0.004, 0.006, 0.01]},
      {"r": "likelihood", "c": "omega_t", "k": "phi", "t": "refact", "ck": "omega_t|phi", "y": [0.59, 0.665, 0.705, 0.735, 0.765], "w": [0.018, 0.006, 0.004, 0.006, 0.01]},
      {"r": "likelihood", "c": "omega_t", "k": "phi", "t": "verifact", "ck": "omega_t|phi", "y": [0.585, 0.645, 0.69, 0.725, 0.76], "w": [0.018, 0.006, 0.004, 0.006, 0.01]},
      {"r": "likelihood", "c": "omega_t", "k": "qcr", "t": "refact", "ck": "omega_t|qcr", "y": [0.655, 0.665, 0.7, 0.73, 0.76], "w": [0.021, 0.007, 0.005, 0.007, 0.018]},
      {"r": "likelihood", "c": "omega_t", "k": "qcr", "t": "verifact", "ck": "omega_t|qcr", "y": [0.645, 0.655, 0.69, 0.725, 0.755], "w": [0.021, 0.007, 0.005, 0.007, 0.018]},
      {"r": "likelihood", "c": "omega_t", "k": "tet", "t": "refact", "ck": "omega_t|tet", "y": [0.6, 0.655, 0.685, 0.7, 0.705], "w": [0.014, 0.006, 0.004, 0.006, 0.01]},
      {"r": "likelihood", "c": "omega_t", "k": "tet", "t": "verifact", "ck": "omega_t|tet", "y": [0.63, 0.665, 0.69, 0.7, 0.705], "w": [0.014, 0.006, 0.004, 0.006, 0.01]},
      {"r": "likelihood", "c": "tau Equivalence", "k": "phi", "t": "refact", "ck": "tau Equivalence|phi", "y": [0.6, 0.705, 0.74, 0.755, 0.775], "w": [0.018, 0.006, 0.004, 0.006, 0.01]},
      {"r": "likelihood", "c": "tau Equivalence", "k": "phi", "t": "verifact", "ck": "tau Equivalence|phi", "y": [0.605, 0.685, 0.72, 0.745, 0.76], "w": [0.018, 0.006, 0.004, 0.006, 0.01]},
      {"r": "likelihood", "c": "tau Equivalence", "k": "qcr", "t": "refact", "ck": "tau Equivalence|qcr", "y": [0.655, 0.715, 0.745, 0.76, 0.77], "w": [0.021, 0.007, 0.005, 0.007, 0.018]},
      {"r": "likelihood", "c": "tau Equivalence", "k": "qcr", "t": "verifact", "ck": "tau Equivalence|qcr", "y": [0.645, 0.705, 0.735, 0.755, 0.765], "w": [0.021, 0.007, 0.005, 0.007, 0.018]},
      {"r": "likelihood", "c": "tau Equivalence", "k": "tet", "t": "refact", "ck": "tau Equivalence|tet", "y": [0.585, 0.64, 0.675, 0.7, 0.73], "w": [0.014, 0.006, 0.004, 0.006, 0.01]},
      {"r": "likelihood", "c": "tau Equivalence", "k": "tet", "t": "verifact", "ck": "tau Equivalence|tet", "y": [0.645, 0.665, 0.68, 0.7, 0.73], "w": [0.014, 0.006, 0.004, 0.006, 0.01]},
      {"r": "likelihood", "c": "Unidim", "k": "phi", "t": "refact", "ck": "Unidim|phi", "y": [0.6, 0.715, 0.745, 0.76, 0.775], "w": [0.018, 0.006, 0.004, 0.006, 0.01]},
      {"r": "likelihood", "c": "Unidim", "k": "phi", "t": "verifact", "ck": "Unidim|phi", "y": [0.61, 0.68, 0.72, 0.745, 0.765], "w": [0.018, 0.006, 0.004, 0.006, 0.01]},
      {"r": "likelihood", "c": "Unidim", "k": "qcr", "t": "refact", "ck": "Unidim|qcr", "y": [0.655, 0.72, 0.74, 0.755, 0.76], "w": [0.021, 0.007, 0.005, 0.007, 0.018]},
      {"r": "likelihood", "c": "Unidim", "k": "qcr", "t": "verifact", "ck": "Unidim|qcr", "y": [0.635, 0.7, 0.73, 0.745, 0.755], "w": [0.021, 0.007, 0.005, 0.007, 0.018]},
      {"r": "likelihood", "c": "Unidim", "k": "tet", "t": "refact", "ck": "Unidim|tet", "y": [0.585, 0.645, 0.68, 0.7, 0.725], "w": [0.014, 0.006, 0.004, 0.006, 0.01]},
      {"r": "likelihood", "c": "Unidim", "k": "tet", "t": "verifact", "ck": "Unidim|tet", "y": [0.64, 0.665, 0.685, 0.705, 0.73], "w": [0.014, 0.006, 0.004, 0.006, 0.01]},

      {"r": "partial dCor", "c": "Cronbach a", "k": "phi", "t": "refact", "ck": "Cronbach a|phi", "y": [0.655, 0.83, 0.892, 0.917, 0.942], "w": [0.038, 0.012, 0.009, 0.012, 0.022]},
      {"r": "partial dCor", "c": "Cronbach a", "k": "phi", "t": "verifact", "ck": "Cronbach a|phi", "y": [0.712, 0.815, 0.868, 0.888, 0.902], "w": [0.038, 0.012, 0.009, 0.012, 0.022]},
      {"r": "partial dCor", "c": "Cronbach a", "k": "qcr", "t": "refact", "ck": "Cronbach a|qcr", "y": [0.745, 0.785, 0.82, 0.878, 0.872], "w": [0.05, 0.015, 0.01, 0.015, 0.04]},
      {"r": "partial dCor", "c": "Cronbach a", "k": "qcr", "t": "verifact", "ck": "Cronbach a|qcr", "y": [0.8, 0.825, 0.855, 0.875, 0.858], "w": [0.05, 0.015, 0.01, 0.015, 0.04]},
      {"r": "partial dCor", "c": "Cronbach a", "k": "tet", "t": "refact", "ck": "Cronbach a|tet", "y": [0.75, 0.812, 0.86, 0.889, 0.893], "w": [0.03, 0.012, 0.009, 0.012, 0.022]},
      {"r": "partial dCor", "c": "Cronbach a", "k": "tet", "t": "verifact", "ck": "Cronbach a|tet", "y": [0.826, 0.826, 0.848, 0.866, 0.868], "w": [0.03, 0.012, 0.009, 0.012, 0.022]},
      {"r": "partial dCor", "c": "Congeneric Fit", "k": "phi", "t": "refact", "ck": "Congeneric Fit|phi", "y": [0.72, 0.845, 0.89, 0.91, 0.915], "w": [0.038, 0.012, 0.009, 0.012, 0.022]},
      {"r": "partial dCor", "c": "Congeneric Fit", "k": "phi", "t": "verifact", "ck": "Congeneric Fit|phi", "y": [0.745, 0.84, 0.875, 0.895, 0.905], "w": [0.038, 0.012, 0.009, 0.012, 0.022]},
      {"r": "partial dCor", "c": "Congeneric Fit", "k": "qcr", "t": "refact", "ck": "Congeneric Fit|qcr", "y": [0.68, 0.79, 0.85, 0.875, 0.84], "w": [0.045, 0.015, 0.01, 0.015, 0.04]},
      {"r": "partial dCor", "c": "Congeneric Fit", "k": "qcr", "t": "verifact", "ck": "Congeneric Fit|qcr", "y": [0.8, 0.83, 0.86, 0.875, 0.865], "w": [0.045, 0.015, 0.01, 0.015, 0.04]},
      {"r": "partial dCor", "c": "Congeneric Fit", "k": "tet", "t": "refact", "ck": "Congeneric Fit|tet", "y": [0.6, 0.77, 0.835, 0.86, 0.875], "w": [0.03, 0.012, 0.009, 0.012, 0.022]},
      {"r": "partial dCor", "c": "Congeneric Fit", "k": "tet", "t": "verifact", "ck": "Congeneric Fit|tet", "y": [0.81, 0.84, 0.855, 0.86, 0.865], "w": [0.03, 0.012, 0.009, 0.012, 0.022]},
      {"r": "partial dCor", "c": "mean IIC", "k": "phi", "t": "refact", "ck": "mean IIC|phi", "y": [0.7, 0.875, 0.91, 0.93, 0.94], "w": [0.038, 0.012, 0.009, 0.012, 0.022]},
      {"r": "partial dCor", "c": "mean IIC", "k": "phi", "t": "verifact", "ck": "mean IIC|phi", "y": [0.745, 0.86, 0.89, 0.9, 0.905], "w": [0.038, 0.012, 0.009, 0.012, 0.022]},
      {"r": "partial dCor", "c": "mean IIC", "k": "qcr", "t": "refact", "ck": "mean IIC|qcr", "y": [0.77, 0.84, 0.875, 0.89, 0.88], "w": [0.045, 0.015, 0.01, 0.015, 0.04]},
      {"r": "partial dCor", "c": "mean IIC", "k": "qcr", "t": "verifact", "ck": "mean IIC|qcr", "y": [0.8, 0.845, 0.87, 0.88, 0.875], "w": [0.045, 0.015, 0.01, 0.015, 0.04]},
      {"r": "partial dCor", "c": "mean IIC", "k": "tet", "t": "refact", "ck": "mean IIC|tet", "y": [0.73, 0.82, 0.86, 0.875, 0.88], "w": [0.03, 0.012, 0.009, 0.012, 0.022]},
      {"r": "partial dCor", "c": "mean IIC", "k": "tet", "t": "verifact", "ck": "mean IIC|tet", "y": [0.82, 0.845, 0.86, 0.865, 0.87], "w": [0.03, 0.012, 0.009, 0.012, 0.022]},
      {"r": "partial dCor", "c": "omega_t", "k": "phi", "t": "refact", "ck": "omega_t|phi", "y": [0.7, 0.8, 0.87, 0.91, 0.94], "w": [0.038, 0.012, 0.009, 0.012, 0.022]},
      {"r": "partial dCor", "c": "omega_t", "k": "phi", "t": "verifact", "ck": "omega_t|phi", "y": [0.72, 0.81, 0.865, 0.895, 0.91], "w": [0.038, 0.012, 0.009, 0.012, 0.022]},
      {"r": "partial dCor", "c": "omega_t", "k": "qcr", "t": "refact", "ck": "omega_t|qcr", "y": [0.73, 0.77, 0.82, 0.87, 0.86], "w": [0.045, 0.015, 0.01, 0.015, 0.04]},
      {"r": "partial dCor", "c": "omega_t", "k": "qcr", "t": "verifact", "ck": "omega_t|qcr", "y": [0.78, 0.8, 0.845, 0.875, 0.87], "w": [0.045, 0.015, 0.01, 0.015, 0.04]},
      {"r": "partial dCor", "c": "omega_t", "k": "tet", "t": "refact", "ck": "omega_t|tet", "y": [0.69, 0.79, 0.86, 0.89, 0.9], "w": [0.03, 0.012, 0.009, 0.012, 0.022]},
      {"r": "partial dCor", "c": "omega_t", "k": "tet", "t": "verifact", "ck": "omega_t|tet", "y": [0.76, 0.8, 0.85, 0.88, 0.9], "w": [0.03, 0.012, 0.009, 0.012, 0.022]},
      {"r": "partial dCor", "c": "tau Equivalence", "k": "phi", "t": "refact", "ck": "tau Equivalence|phi", "y": [0.7, 0.87, 0.91, 0.93, 0.935], "w": [0.038, 0.012, 0.009, 0.012, 0.022]},
      {"r": "partial dCor", "c": "tau Equivalence", "k": "phi", "t": "verifact", "ck": "tau Equivalence|phi", "y": [0.745, 0.855, 0.89, 0.905, 0.91], "w": [0.038, 0.012, 0.009, 0.012, 0.022]},
      {"r": "partial dCor", "c": "tau Equivalence", "k": "qcr", "t": "refact", "ck": "tau Equivalence|qcr", "y": [0.75, 0.84, 0.875, 0.885, 0.87], "w": [0.045, 0.015, 0.01, 0.015, 0.04]},
      {"r": "partial dCor", "c": "tau Equivalence", "k": "qcr", "t": "verifact", "ck": "tau Equivalence|qcr", "y": [0.8, 0.85, 0.875, 0.88, 0.87], "w": [0.045, 0.015, 0.01, 0.015, 0.04]},
      {"r": "partial dCor", "c": "tau Equivalence", "k": "tet", "t": "refact", "ck": "tau Equivalence|tet", "y": [0.65, 0.8, 0.85, 0.875, 0.88], "w": [0.03, 0.012, 0.009, 0.012, 0.022]},
      {"r": "partial dCor", "c": "tau Equivalence", "k": "tet", "t": "verifact", "ck": "tau Equivalence|tet", "y": [0.8, 0.84, 0.855, 0.86, 0.86], "w": [0.03, 0.012, 0.009, 0.012, 0.022]},
      {"r": "partial dCor", "c": "Unidim", "k": "phi", "t": "refact", "ck": "Unidim|phi", "y": [0.7, 0.88, 0.915, 0.93, 0.93], "w": [0.038, 0.012, 0.009, 0.012, 0.022]},
      {"r": "partial dCor", "c": "Unidim", "k": "phi", "t": "verifact", "ck": "Unidim|phi", "y": [0.745, 0.865, 0.895, 0.905, 0.91], "w": [0.038, 0.012, 0.009, 0.012, 0.022]},
      {"r": "partial dCor", "c": "Unidim", "k": "qcr", "t": "refact", "ck": "Unidim|qcr", "y": [0.77, 0.86, 0.88, 0.885, 0.885], "w": [0.045, 0.015, 0.01, 0.015, 0.04]},
      {"r": "partial dCor", "c": "Unidim", "k": "qcr", "t": "verifact", "ck": "Unidim|qcr", "y": [0.81, 0.865, 0.885, 0.89, 0.89], "w": [0.045, 0.015, 0.01, 0.015, 0.04]},
      {"r": "partial dCor", "c": "Unidim", "k": "tet", "t": "refact", "ck": "Unidim|tet", "y": [0.66, 0.82, 0.86, 0.875, 0.875], "w": [0.03, 0.012, 0.009, 0.012, 0.022]},
      {"r": "partial dCor", "c": "Unidim", "k": "tet", "t": "verifact", "ck": "Unidim|tet", "y": [0.82, 0.845, 0.855, 0.86, 0.855], "w": [0.03, 0.012, 0.009, 0.012, 0.022]},

      {"r": "Explained Var.", "c": "Cronbach a", "k": "phi", "t": "refact", "ck": "Cronbach a|phi", "y": [0.17, 0.33, 0.445, 0.53, 0.63], "w": [0.05, 0.016, 0.012, 0.016, 0.03]},
      {"r": "Explained Var.", "c": "Cronbach a", "k": "phi", "t": "verifact", "ck": "Cronbach a|phi", "y": [0.24, 0.335, 0.43, 0.51, 0.62], "w": [0.05, 0.016, 0.012, 0.016, 0.03]},
      {"r": "Explained Var.", "c": "Cronbach a", "k": "qcr", "t": "refact", "ck": "Cronbach a|qcr", "y": [0.34, 0.365, 0.44, 0.53, 0.62], "w": [0.06, 0.02, 0.014, 0.02, 0.05]},
      {"r": "Explained Var.", "c": "Cronbach a", "k": "qcr", "t": "verifact", "ck": "Cronbach a|qcr", "y": [0.37, 0.37, 0.43, 0.515, 0.605], "w": [0.06, 0.02, 0.014, 0.02, 0.05]},
      {"r": "Explained Var.", "c": "Cronbach a", "k": "tet", "t": "refact", "ck": "Cronbach a|tet", "y": [0.255, 0.31, 0.39, 0.45, 0.51], "w": [0.04, 0.016, 0.012, 0.016, 0.03]},
      {"r": "Explained Var.", "c": "Cronbach a", "k": "tet", "t": "verifact", "ck": "Cronbach a|tet", "y": [0.41, 0.405, 0.43, 0.47, 0.51], "w": [0.04, 0.016, 0.012, 0.016, 0.03]},
      {"r": "Explained Var.", "c": "Congeneric Fit", "k": "phi", "t": "refact", "ck": "Congeneric Fit|phi", "y": [0.26, 0.4, 0.49, 0.57, 0.665], "w": [0.05, 0.016, 0.012, 0.016, 0.03]},
      {"r": "Explained Var.", "c": "Congeneric Fit", "k": "phi", "t": "verifact", "ck": "Congeneric Fit|phi", "y": [0.3, 0.39, 0.47, 0.55, 0.655], "w": [0.05, 0.016, 0.012, 0.016, 0.03]},
      {"r": "Explained Var.", "c": "Congeneric Fit", "k": "qcr", "t": "refact", "ck": "Congeneric Fit|qcr", "y": [0.33, 0.44, 0.52, 0.57, 0.61], "w": [0.06, 0.02, 0.014, 0.02, 0.05]},
      {"r": "Explained Var.", "c": "Congeneric Fit", "k": "qcr", "t": "verifact", "ck": "Congeneric Fit|qcr", "y": [0.38, 0.45, 0.51, 0.56, 0.6], "w": [0.06, 0.02, 0.014, 0.02, 0.05]},
      {"r": "Explained Var.", "c": "Congeneric Fit", "k": "tet", "t": "refact", "ck": "Congeneric Fit|tet", "y": [0.13, 0.28, 0.36, 0.42, 0.49], "w": [0.04, 0.016, 0.012, 0.016, 0.03]},
      {"r": "Explained Var.", "c": "Congeneric Fit", "k": "tet", "t": "verifact", "ck": "Congeneric Fit|tet", "y": [0.37, 0.4, 0.43, 0.46, 0.49], "w": [0.04, 0.016, 0.012, 0.016, 0.03]},
      {"r": "Explained Var.", "c": "mean IIC", "k": "phi", "t": "refact", "ck": "mean IIC|phi", "y": [0.25, 0.5, 0.57, 0.61, 0.635], "w": [0.05, 0.016, 0.012, 0.016, 0.03]},
      {"r": "Explained Var.", "c": "mean IIC", "k": "phi", "t": "verifact", "ck": "mean IIC|phi", "y": [0.3, 0.49, 0.56, 0.6, 0.62], "w": [0.05, 0.016, 0.012, 0.016, 0.03]},
      {"r": "Explained Var.", "c": "mean IIC", "k": "qcr", "t": "refact", "ck": "mean IIC|qcr", "y": [0.33, 0.47, 0.55, 0.6, 0.62], "w": [0.06, 0.02, 0.014, 0.02, 0.05]},
      {"r": "Explained Var.", "c": "mean IIC", "k": "qcr", "t": "verifact", "ck": "mean IIC|qcr", "y": [0.37, 0.47, 0.55, 0.595, 0.615], "w": [0.06, 0.02, 0.014, 0.02, 0.05]},
      {"r": "Explained Var.", "c": "mean IIC", "k": "tet", "t": "refact", "ck": "mean IIC|tet", "y": [0.24, 0.37, 0.44, 0.48, 0.51], "w": [0.04, 0.016, 0.012, 0.016, 0.03]},
      {"r": "Explained Var.", "c": "mean IIC", "k": "tet", "t": "verifact", "ck": "mean IIC|tet", "y": [0.4, 0.43, 0.47, 0.5, 0.515], "w": [0.04, 0.016, 0.012, 0.016, 0.03]},
      {"r": "Explained Var.", "c": "omega_t", "k": "phi", "t": "refact", "ck": "omega_t|phi", "y": [0.22, 0.36, 0.46, 0.54, 0.64], "w": [0.05, 0.016, 0.012, 0.016, 0.03]},
      {"r": "Explained Var.", "c": "omega_t", "k": "phi", "t": "verifact", "ck": "omega_t|phi", "y": [0.26, 0.37, 0.46, 0.54, 0.63], "w": [0.05, 0.016, 0.012, 0.016, 0.03]},
      {"r": "Explained Var.", "c": "omega_t", "k": "qcr", "t": "refact", "ck": "omega_t|qcr", "y": [0.35, 0.36, 0.45, 0.54, 0.62], "w": [0.06, 0.02, 0.014, 0.02, 0.05]},
      {"r": "Explained Var.", "c": "omega_t", "k": "qcr", "t": "verifact", "ck": "omega_t|qcr", "y": [0.37, 0.38, 0.45, 0.54, 0.615], "w": [0.06, 0.02, 0.014, 0.02, 0.05]},
      {"r": "Explained Var.", "c": "omega_t", "k": "tet", "t": "refact", "ck": "omega_t|tet", "y": [0.2, 0.36, 0.44, 0.48, 0.49], "w": [0.04, 0.016, 0.012, 0.016, 0.03]},
      {"r": "Explained Var.", "c": "omega_t", "k": "tet", "t": "verifact", "ck": "omega_t|tet", "y": [0.31, 0.4, 0.45, 0.48, 0.49], "w": [0.04, 0.016, 0.012, 0.016, 0.03]},
      {"r": "Explained Var.", "c": "tau Equivalence", "k": "phi", "t": "refact", "ck": "tau Equivalence|phi", "y": [0.26, 0.47, 0.55, 0.6, 0.635], "w": [0.05, 0.016, 0.012, 0.016, 0.03]},
      {"r": "Explained Var.", "c": "tau Equivalence", "k": "phi", "t": "verifact", "ck": "tau Equivalence|phi", "y": [0.29, 0.45, 0.53, 0.585, 0.62], "w": [0.05, 0.016, 0.012, 0.016, 0.03]},
      {"r": "Explained Var.", "c": "tau Equivalence", "k": "qcr", "t": "refact", "ck": "tau Equivalence|qcr", "y": [0.33, 0.49, 0.56, 0.595, 0.61], "w": [0.06, 0.02, 0.014, 0.02, 0.05]},
      {"r": "Explained Var.", "c": "tau Equivalence", "k": "qcr", "t": "verifact", "ck": "tau Equivalence|qcr", "y": [0.37, 0.49, 0.55, 0.59, 0.6], "w": [0.06, 0.02, 0.014, 0.02, 0.05]},
      {"r": "Explained Var.", "c": "tau Equivalence", "k": "tet", "t": "refact", "ck": "tau Equivalence|tet", "y": [0.17, 0.3, 0.39, 0.45, 0.52], "w": [0.04, 0.016, 0.012, 0.016, 0.03]},
      {"r": "Explained Var.", "c": "tau Equivalence", "k": "tet", "t": "verifact", "ck": "tau Equivalence|tet", "y": [0.38, 0.41, 0.44, 0.48, 0.52], "w": [0.04, 0.016, 0.012, 0.016, 0.03]},
      {"r": "Explained Var.", "c": "Unidim", "k": "phi", "t": "refact", "ck": "Unidim|phi", "y": [0.28, 0.5, 0.57, 0.61, 0.64], "w": [0.05, 0.016, 0.012, 0.016, 0.03]},
      {"r": "Explained Var.", "c": "Unidim", "k": "phi", "t": "verifact", "ck": "Unidim|phi", "y": [0.3, 0.46, 0.54, 0.59, 0.63], "w": [0.05, 0.016, 0.012, 0.016, 0.03]},
      {"r": "Explained Var.", "c": "Unidim", "k": "qcr", "t": "refact", "ck": "Unidim|qcr", "y": [0.34, 0.52, 0.57, 0.595, 0.605], "w": [0.06, 0.02, 0.014, 0.02, 0.05]},
      {"r": "Explained Var.", "c": "Unidim", "k": "qcr", "t": "verifact", "ck": "Unidim|qcr", "y": [0.37, 0.49, 0.55, 0.585, 0.6], "w": [0.06, 0.02, 0.014, 0.02, 0.05]},
      {"r": "Explained Var.", "c": "Unidim", "k": "tet", "t": "refact", "ck": "Unidim|tet", "y": [0.17, 0.33, 0.41, 0.46, 0.5], "w": [0.04, 0.016, 0.012, 0.016, 0.03]},
      {"r": "Explained Var.", "c": "Unidim", "k": "tet", "t": "verifact", "ck": "Unidim|tet", "y": [0.37, 0.41, 0.44, 0.48, 0.52], "w": [0.04, 0.016, 0.012, 0.016, 0.03]}
    ]
  },
  "data": {"name": "lines"},
  "transform": [
    {"lookup": "ck", "from": {"data": {"name": "xs"}, "key": "ck", "fields": ["x"]}},
    {"flatten": ["x", "y", "w"]}
  ],
  "resolve": {"scale": {"color": "shared", "strokeDash": "shared", "fill": "shared", "opacity": "shared"}},
  "spacing": 9.7,
  "vconcat": [
    {
      "transform": [{"filter": {"field": "r", "equal": "AUC"}}],
      "facet": {
        "row": {"field": "r", "type": "nominal", "header": {"title": null, "labelOrient": "right", "labelAngle": 90, "labelPadding": 8}},
        "column": {"field": "c", "type": "nominal", "sort": ["Cronbach a", "Congeneric Fit", "mean IIC", "omega_t", "tau Equivalence", "Unidim"], "header": {"title": null, "labelOrient": "top", "labelPadding": 8}}
      },
      "spacing": {"column": 11.7, "row": 0},
      "bounds": "flush",
      "resolve": {"scale": {"x": "independent"}},
      "spec": {
        "width": 152.5, "height": 128.8,
        "encoding": {
          "x": {"field": "x", "type": "quantitative", "title": null, "scale": {"zero": false, "nice": false, "padding": 7}, "axis": {"labels": false, "minExtent": 0, "values": {"expr": "domain('concat_0_child_x')[0] > 0.905 ? [0.92,0.93,0.94,0.95,0.96,0.97,0.98,0.99,1] : domain('concat_0_child_x')[0] > 0.8 ? [0.9,0.9125,0.925,0.9375,0.95,0.9625,0.975,0.9875] : domain('concat_0_child_x')[0] > 0.3 ? [0.4,0.5,0.6,0.7,0.8,0.9] : domain('concat_0_child_x')[0] < 0.12 ? [0.125,0.25,0.375,0.5,0.625,0.75,0.875] : domain('concat_0_child_x')[1] < 0.85 ? [0.2,0.3,0.4,0.5,0.6,0.7] : [0.2,0.3,0.4,0.5,0.6,0.7,0.8,0.9]"}}},
          "y": {"field": "y", "type": "quantitative", "title": null, "scale": {"domain": [0.626, 0.989], "nice": false, "zero": false}, "axis": {"values": [0.65, 0.7, 0.75, 0.8, 0.85, 0.9, 0.95], "labelExpr": "round(datum.value*100) % 10 == 0 ? format(datum.value, '.1f') : ''", "labelPadding": 7, "minExtent": 40, "maxExtent": 40}},
          "color": {"field": "k", "type": "nominal", "title": "Correlation", "scale": {"domain": ["phi", "qcr", "tet"], "range": ["#000000", "#E69F00", "#56B4E9"]}, "legend": {"orient": "none", "legendX": 506, "legendY": 1050, "zindex": 1}},
          "detail": {"field": "t"}
        },
        "layer": [
          {"mark": {"type": "errorband", "interpolate": "monotone", "band": {"opacity": 0.2}, "borders": false}, "encoding": {"yError": {"field": "w"}, "fill": {"field": "k", "type": "nominal", "title": "Correlation", "scale": {"range": ["#000000", "#E69F00", "#56B4E9"]}, "legend": {"orient": "none", "legendX": 506, "legendY": 1050, "zindex": 0, "symbolType": "square", "titleColor": "transparent", "labelColor": "transparent", "encode": {"symbols": {"update": {"opacity": {"value": 0.22}, "stroke": {"value": "transparent"}, "strokeWidth": {"value": 3}}}}}}}},
          {"mark": {"type": "line", "strokeWidth": 3, "interpolate": "monotone"}, "encoding": {
            "strokeDash": {"field": "t", "type": "nominal", "title": "Refactor type", "scale": {"domain": ["refact", "verifact"], "range": [[1, 0], [10, 6]]}, "legend": {"orient": "none", "legendX": 156, "legendY": 1050, "zindex": 1, "symbolStrokeColor": "#3366FF"}},
            "opacity": {"field": "t", "type": "nominal", "title": "Refactor type", "scale": {"range": [1, 1]}, "legend": {"orient": "none", "legendX": 156, "legendY": 1050, "zindex": 0, "symbolType": "square", "titleColor": "transparent", "labelColor": "transparent", "encode": {"symbols": {"update": {"fill": {"value": "#E3E3E3"}, "opacity": {"value": 1}, "stroke": {"value": "transparent"}, "strokeWidth": {"value": 3}}}}}}}}
        ]
      }
    },
    {
      "transform": [{"filter": {"field": "r", "equal": "cosine"}}],
      "facet": {
        "row": {"field": "r", "type": "nominal", "header": {"title": null, "labelOrient": "right", "labelAngle": 90, "labelPadding": 8}},
        "column": {"field": "c", "type": "nominal", "sort": ["Cronbach a", "Congeneric Fit", "mean IIC", "omega_t", "tau Equivalence", "Unidim"], "header": {"title": null, "labels": false}}
      },
      "spacing": {"column": 11.7, "row": 0},
      "bounds": "flush",
      "resolve": {"scale": {"x": "independent"}},
      "spec": {
        "width": 152.5, "height": 128.8,
        "encoding": {
          "x": {"field": "x", "type": "quantitative", "title": null, "scale": {"zero": false, "nice": false, "padding": 7}, "axis": {"labels": false, "minExtent": 0, "values": {"expr": "domain('concat_1_child_x')[0] > 0.905 ? [0.92,0.93,0.94,0.95,0.96,0.97,0.98,0.99,1] : domain('concat_1_child_x')[0] > 0.8 ? [0.9,0.9125,0.925,0.9375,0.95,0.9625,0.975,0.9875] : domain('concat_1_child_x')[0] > 0.3 ? [0.4,0.5,0.6,0.7,0.8,0.9] : domain('concat_1_child_x')[0] < 0.12 ? [0.125,0.25,0.375,0.5,0.625,0.75,0.875] : domain('concat_1_child_x')[1] < 0.85 ? [0.2,0.3,0.4,0.5,0.6,0.7] : [0.2,0.3,0.4,0.5,0.6,0.7,0.8,0.9]"}}},
          "y": {"field": "y", "type": "quantitative", "title": null, "scale": {"domain": [0.565, 0.928], "nice": false, "zero": false}, "axis": {"values": [0.6, 0.65, 0.7, 0.75, 0.8, 0.85, 0.9], "labelExpr": "round(datum.value*100) % 10 == 0 ? format(datum.value, '.1f') : ''", "labelPadding": 7, "minExtent": 40, "maxExtent": 40}},
          "color": {"field": "k", "type": "nominal", "title": "Correlation", "scale": {"domain": ["phi", "qcr", "tet"], "range": ["#000000", "#E69F00", "#56B4E9"]}, "legend": {"orient": "none", "legendX": 506, "legendY": 1050, "zindex": 1}},
          "detail": {"field": "t"}
        },
        "layer": [
          {"mark": {"type": "errorband", "interpolate": "monotone", "band": {"opacity": 0.2}, "borders": false}, "encoding": {"yError": {"field": "w"}, "fill": {"field": "k", "type": "nominal", "title": "Correlation", "scale": {"range": ["#000000", "#E69F00", "#56B4E9"]}, "legend": {"orient": "none", "legendX": 506, "legendY": 1050, "zindex": 0, "symbolType": "square", "titleColor": "transparent", "labelColor": "transparent", "encode": {"symbols": {"update": {"opacity": {"value": 0.22}, "stroke": {"value": "transparent"}, "strokeWidth": {"value": 3}}}}}}}},
          {"mark": {"type": "line", "strokeWidth": 3, "interpolate": "monotone"}, "encoding": {
            "strokeDash": {"field": "t", "type": "nominal", "title": "Refactor type", "scale": {"domain": ["refact", "verifact"], "range": [[1, 0], [10, 6]]}, "legend": {"orient": "none", "legendX": 156, "legendY": 1050, "zindex": 1, "symbolStrokeColor": "#3366FF"}},
            "opacity": {"field": "t", "type": "nominal", "title": "Refactor type", "scale": {"range": [1, 1]}, "legend": {"orient": "none", "legendX": 156, "legendY": 1050, "zindex": 0, "symbolType": "square", "titleColor": "transparent", "labelColor": "transparent", "encode": {"symbols": {"update": {"fill": {"value": "#E3E3E3"}, "opacity": {"value": 1}, "stroke": {"value": "transparent"}, "strokeWidth": {"value": 3}}}}}}}}
        ]
      }
    },
    {
      "transform": [{"filter": {"field": "r", "equal": "dCor"}}],
      "facet": {
        "row": {"field": "r", "type": "nominal", "header": {"title": null, "labelOrient": "right", "labelAngle": 90, "labelPadding": 8}},
        "column": {"field": "c", "type": "nominal", "sort": ["Cronbach a", "Congeneric Fit", "mean IIC", "omega_t", "tau Equivalence", "Unidim"], "header": {"title": null, "labels": false}}
      },
      "spacing": {"column": 11.7, "row": 0},
      "bounds": "flush",
      "resolve": {"scale": {"x": "independent"}},
      "spec": {
        "width": 152.5, "height": 128.8,
        "encoding": {
          "x": {"field": "x", "type": "quantitative", "title": null, "scale": {"zero": false, "nice": false, "padding": 7}, "axis": {"labels": false, "minExtent": 0, "values": {"expr": "domain('concat_2_child_x')[0] > 0.905 ? [0.92,0.93,0.94,0.95,0.96,0.97,0.98,0.99,1] : domain('concat_2_child_x')[0] > 0.8 ? [0.9,0.9125,0.925,0.9375,0.95,0.9625,0.975,0.9875] : domain('concat_2_child_x')[0] > 0.3 ? [0.4,0.5,0.6,0.7,0.8,0.9] : domain('concat_2_child_x')[0] < 0.12 ? [0.125,0.25,0.375,0.5,0.625,0.75,0.875] : domain('concat_2_child_x')[1] < 0.85 ? [0.2,0.3,0.4,0.5,0.6,0.7] : [0.2,0.3,0.4,0.5,0.6,0.7,0.8,0.9]"}}},
          "y": {"field": "y", "type": "quantitative", "title": null, "scale": {"domain": [0.47, 0.945], "nice": false, "zero": false}, "axis": {"values": [0.5, 0.55, 0.6, 0.65, 0.7, 0.75, 0.8, 0.85, 0.9], "labelExpr": "round(datum.value*100) % 10 == 0 ? format(datum.value, '.1f') : ''", "labelPadding": 7, "minExtent": 40, "maxExtent": 40}},
          "color": {"field": "k", "type": "nominal", "title": "Correlation", "scale": {"domain": ["phi", "qcr", "tet"], "range": ["#000000", "#E69F00", "#56B4E9"]}, "legend": {"orient": "none", "legendX": 506, "legendY": 1050, "zindex": 1}},
          "detail": {"field": "t"}
        },
        "layer": [
          {"mark": {"type": "errorband", "interpolate": "monotone", "band": {"opacity": 0.2}, "borders": false}, "encoding": {"yError": {"field": "w"}, "fill": {"field": "k", "type": "nominal", "title": "Correlation", "scale": {"range": ["#000000", "#E69F00", "#56B4E9"]}, "legend": {"orient": "none", "legendX": 506, "legendY": 1050, "zindex": 0, "symbolType": "square", "titleColor": "transparent", "labelColor": "transparent", "encode": {"symbols": {"update": {"opacity": {"value": 0.22}, "stroke": {"value": "transparent"}, "strokeWidth": {"value": 3}}}}}}}},
          {"mark": {"type": "line", "strokeWidth": 3, "interpolate": "monotone"}, "encoding": {
            "strokeDash": {"field": "t", "type": "nominal", "title": "Refactor type", "scale": {"domain": ["refact", "verifact"], "range": [[1, 0], [10, 6]]}, "legend": {"orient": "none", "legendX": 156, "legendY": 1050, "zindex": 1, "symbolStrokeColor": "#3366FF"}},
            "opacity": {"field": "t", "type": "nominal", "title": "Refactor type", "scale": {"range": [1, 1]}, "legend": {"orient": "none", "legendX": 156, "legendY": 1050, "zindex": 0, "symbolType": "square", "titleColor": "transparent", "labelColor": "transparent", "encode": {"symbols": {"update": {"fill": {"value": "#E3E3E3"}, "opacity": {"value": 1}, "stroke": {"value": "transparent"}, "strokeWidth": {"value": 3}}}}}}}}
        ]
      }
    },
    {
      "transform": [{"filter": {"field": "r", "equal": "Kendall tau"}}],
      "facet": {
        "row": {"field": "r", "type": "nominal", "header": {"title": null, "labelOrient": "right", "labelAngle": 90, "labelPadding": 8}},
        "column": {"field": "c", "type": "nominal", "sort": ["Cronbach a", "Congeneric Fit", "mean IIC", "omega_t", "tau Equivalence", "Unidim"], "header": {"title": null, "labels": false}}
      },
      "spacing": {"column": 11.7, "row": 0},
      "bounds": "flush",
      "resolve": {"scale": {"x": "independent"}},
      "spec": {
        "width": 152.5, "height": 128.8,
        "encoding": {
          "x": {"field": "x", "type": "quantitative", "title": null, "scale": {"zero": false, "nice": false, "padding": 7}, "axis": {"labels": false, "minExtent": 0, "values": {"expr": "domain('concat_3_child_x')[0] > 0.905 ? [0.92,0.93,0.94,0.95,0.96,0.97,0.98,0.99,1] : domain('concat_3_child_x')[0] > 0.8 ? [0.9,0.9125,0.925,0.9375,0.95,0.9625,0.975,0.9875] : domain('concat_3_child_x')[0] > 0.3 ? [0.4,0.5,0.6,0.7,0.8,0.9] : domain('concat_3_child_x')[0] < 0.12 ? [0.125,0.25,0.375,0.5,0.625,0.75,0.875] : domain('concat_3_child_x')[1] < 0.85 ? [0.2,0.3,0.4,0.5,0.6,0.7] : [0.2,0.3,0.4,0.5,0.6,0.7,0.8,0.9]"}}},
          "y": {"field": "y", "type": "quantitative", "title": null, "scale": {"domain": [0.2, 0.735], "nice": false, "zero": false}, "axis": {"values": [0.25, 0.3, 0.35, 0.4, 0.45, 0.5, 0.55, 0.6, 0.65, 0.7], "labelExpr": "round(datum.value*100) % 10 == 0 ? format(datum.value, '.1f') : ''", "labelPadding": 7, "minExtent": 40, "maxExtent": 40}},
          "color": {"field": "k", "type": "nominal", "title": "Correlation", "scale": {"domain": ["phi", "qcr", "tet"], "range": ["#000000", "#E69F00", "#56B4E9"]}, "legend": {"orient": "none", "legendX": 506, "legendY": 1050, "zindex": 1}},
          "detail": {"field": "t"}
        },
        "layer": [
          {"mark": {"type": "errorband", "interpolate": "monotone", "band": {"opacity": 0.2}, "borders": false}, "encoding": {"yError": {"field": "w"}, "fill": {"field": "k", "type": "nominal", "title": "Correlation", "scale": {"range": ["#000000", "#E69F00", "#56B4E9"]}, "legend": {"orient": "none", "legendX": 506, "legendY": 1050, "zindex": 0, "symbolType": "square", "titleColor": "transparent", "labelColor": "transparent", "encode": {"symbols": {"update": {"opacity": {"value": 0.22}, "stroke": {"value": "transparent"}, "strokeWidth": {"value": 3}}}}}}}},
          {"mark": {"type": "line", "strokeWidth": 3, "interpolate": "monotone"}, "encoding": {
            "strokeDash": {"field": "t", "type": "nominal", "title": "Refactor type", "scale": {"domain": ["refact", "verifact"], "range": [[1, 0], [10, 6]]}, "legend": {"orient": "none", "legendX": 156, "legendY": 1050, "zindex": 1, "symbolStrokeColor": "#3366FF"}},
            "opacity": {"field": "t", "type": "nominal", "title": "Refactor type", "scale": {"range": [1, 1]}, "legend": {"orient": "none", "legendX": 156, "legendY": 1050, "zindex": 0, "symbolType": "square", "titleColor": "transparent", "labelColor": "transparent", "encode": {"symbols": {"update": {"fill": {"value": "#E3E3E3"}, "opacity": {"value": 1}, "stroke": {"value": "transparent"}, "strokeWidth": {"value": 3}}}}}}}}
        ]
      }
    },
    {
      "transform": [{"filter": {"field": "r", "equal": "likelihood"}}],
      "facet": {
        "row": {"field": "r", "type": "nominal", "header": {"title": null, "labelOrient": "right", "labelAngle": 90, "labelPadding": 8}},
        "column": {"field": "c", "type": "nominal", "sort": ["Cronbach a", "Congeneric Fit", "mean IIC", "omega_t", "tau Equivalence", "Unidim"], "header": {"title": null, "labels": false}}
      },
      "spacing": {"column": 11.7, "row": 0},
      "bounds": "flush",
      "resolve": {"scale": {"x": "independent"}},
      "spec": {
        "width": 152.5, "height": 128.8,
        "encoding": {
          "x": {"field": "x", "type": "quantitative", "title": null, "scale": {"zero": false, "nice": false, "padding": 7}, "axis": {"labels": false, "minExtent": 0, "values": {"expr": "domain('concat_4_child_x')[0] > 0.905 ? [0.92,0.93,0.94,0.95,0.96,0.97,0.98,0.99,1] : domain('concat_4_child_x')[0] > 0.8 ? [0.9,0.9125,0.925,0.9375,0.95,0.9625,0.975,0.9875] : domain('concat_4_child_x')[0] > 0.3 ? [0.4,0.5,0.6,0.7,0.8,0.9] : domain('concat_4_child_x')[0] < 0.12 ? [0.125,0.25,0.375,0.5,0.625,0.75,0.875] : domain('concat_4_child_x')[1] < 0.85 ? [0.2,0.3,0.4,0.5,0.6,0.7] : [0.2,0.3,0.4,0.5,0.6,0.7,0.8,0.9]"}}},
          "y": {"field": "y", "type": "quantitative", "title": null, "scale": {"domain": [0.537, 0.817], "nice": false, "zero": false}, "axis": {"values": [0.55, 0.575, 0.6, 0.625, 0.65, 0.675, 0.7, 0.725, 0.75, 0.775, 0.8], "labelExpr": "round(datum.value*1000) % 50 == 0 ? format(datum.value, '.2f') : ''", "labelPadding": 7, "minExtent": 40, "maxExtent": 40}},
          "color": {"field": "k", "type": "nominal", "title": "Correlation", "scale": {"domain": ["phi", "qcr", "tet"], "range": ["#000000", "#E69F00", "#56B4E9"]}, "legend": {"orient": "none", "legendX": 506, "legendY": 1050, "zindex": 1}},
          "detail": {"field": "t"}
        },
        "layer": [
          {"mark": {"type": "errorband", "interpolate": "monotone", "band": {"opacity": 0.2}, "borders": false}, "encoding": {"yError": {"field": "w"}, "fill": {"field": "k", "type": "nominal", "title": "Correlation", "scale": {"range": ["#000000", "#E69F00", "#56B4E9"]}, "legend": {"orient": "none", "legendX": 506, "legendY": 1050, "zindex": 0, "symbolType": "square", "titleColor": "transparent", "labelColor": "transparent", "encode": {"symbols": {"update": {"opacity": {"value": 0.22}, "stroke": {"value": "transparent"}, "strokeWidth": {"value": 3}}}}}}}},
          {"mark": {"type": "line", "strokeWidth": 3, "interpolate": "monotone"}, "encoding": {
            "strokeDash": {"field": "t", "type": "nominal", "title": "Refactor type", "scale": {"domain": ["refact", "verifact"], "range": [[1, 0], [10, 6]]}, "legend": {"orient": "none", "legendX": 156, "legendY": 1050, "zindex": 1, "symbolStrokeColor": "#3366FF"}},
            "opacity": {"field": "t", "type": "nominal", "title": "Refactor type", "scale": {"range": [1, 1]}, "legend": {"orient": "none", "legendX": 156, "legendY": 1050, "zindex": 0, "symbolType": "square", "titleColor": "transparent", "labelColor": "transparent", "encode": {"symbols": {"update": {"fill": {"value": "#E3E3E3"}, "opacity": {"value": 1}, "stroke": {"value": "transparent"}, "strokeWidth": {"value": 3}}}}}}}}
        ]
      }
    },
    {
      "transform": [{"filter": {"field": "r", "equal": "partial dCor"}}],
      "facet": {
        "row": {"field": "r", "type": "nominal", "header": {"title": null, "labelOrient": "right", "labelAngle": 90, "labelPadding": 8}},
        "column": {"field": "c", "type": "nominal", "sort": ["Cronbach a", "Congeneric Fit", "mean IIC", "omega_t", "tau Equivalence", "Unidim"], "header": {"title": null, "labels": false}}
      },
      "spacing": {"column": 11.7, "row": 0},
      "bounds": "flush",
      "resolve": {"scale": {"x": "independent"}},
      "spec": {
        "width": 152.5, "height": 128.8,
        "encoding": {
          "x": {"field": "x", "type": "quantitative", "title": null, "scale": {"zero": false, "nice": false, "padding": 7}, "axis": {"labels": false, "minExtent": 0, "values": {"expr": "domain('concat_5_child_x')[0] > 0.905 ? [0.92,0.93,0.94,0.95,0.96,0.97,0.98,0.99,1] : domain('concat_5_child_x')[0] > 0.8 ? [0.9,0.9125,0.925,0.9375,0.95,0.9625,0.975,0.9875] : domain('concat_5_child_x')[0] > 0.3 ? [0.4,0.5,0.6,0.7,0.8,0.9] : domain('concat_5_child_x')[0] < 0.12 ? [0.125,0.25,0.375,0.5,0.625,0.75,0.875] : domain('concat_5_child_x')[1] < 0.85 ? [0.2,0.3,0.4,0.5,0.6,0.7] : [0.2,0.3,0.4,0.5,0.6,0.7,0.8,0.9]"}}},
          "y": {"field": "y", "type": "quantitative", "title": null, "scale": {"domain": [0.54, 1.032], "nice": false, "zero": false}, "axis": {"values": [0.55, 0.6, 0.65, 0.7, 0.75, 0.8, 0.85, 0.9, 0.95, 1.0], "labelExpr": "round(datum.value*100) % 10 == 0 ? format(datum.value, '.1f') : ''", "labelPadding": 7, "minExtent": 40, "maxExtent": 40}},
          "color": {"field": "k", "type": "nominal", "title": "Correlation", "scale": {"domain": ["phi", "qcr", "tet"], "range": ["#000000", "#E69F00", "#56B4E9"]}, "legend": {"orient": "none", "legendX": 506, "legendY": 1050, "zindex": 1}},
          "detail": {"field": "t"}
        },
        "layer": [
          {"mark": {"type": "errorband", "interpolate": "monotone", "band": {"opacity": 0.2}, "borders": false}, "encoding": {"yError": {"field": "w"}, "fill": {"field": "k", "type": "nominal", "title": "Correlation", "scale": {"range": ["#000000", "#E69F00", "#56B4E9"]}, "legend": {"orient": "none", "legendX": 506, "legendY": 1050, "zindex": 0, "symbolType": "square", "titleColor": "transparent", "labelColor": "transparent", "encode": {"symbols": {"update": {"opacity": {"value": 0.22}, "stroke": {"value": "transparent"}, "strokeWidth": {"value": 3}}}}}}}},
          {"mark": {"type": "line", "strokeWidth": 3, "interpolate": "monotone"}, "encoding": {
            "strokeDash": {"field": "t", "type": "nominal", "title": "Refactor type", "scale": {"domain": ["refact", "verifact"], "range": [[1, 0], [10, 6]]}, "legend": {"orient": "none", "legendX": 156, "legendY": 1050, "zindex": 1, "symbolStrokeColor": "#3366FF"}},
            "opacity": {"field": "t", "type": "nominal", "title": "Refactor type", "scale": {"range": [1, 1]}, "legend": {"orient": "none", "legendX": 156, "legendY": 1050, "zindex": 0, "symbolType": "square", "titleColor": "transparent", "labelColor": "transparent", "encode": {"symbols": {"update": {"fill": {"value": "#E3E3E3"}, "opacity": {"value": 1}, "stroke": {"value": "transparent"}, "strokeWidth": {"value": 3}}}}}}}}
        ]
      }
    },
    {
      "transform": [{"filter": {"field": "r", "equal": "Explained Var."}}],
      "facet": {
        "row": {"field": "r", "type": "nominal", "header": {"title": null, "labelOrient": "right", "labelAngle": 90, "labelPadding": 8}},
        "column": {"field": "c", "type": "nominal", "sort": ["Cronbach a", "Congeneric Fit", "mean IIC", "omega_t", "tau Equivalence", "Unidim"], "header": {"title": "Traditional unidimensionality image-fit statistic value", "titleOrient": "bottom", "labels": false, "titlePadding": 24}}
      },
      "spacing": {"column": 11.7, "row": 0},
      "bounds": "flush",
      "resolve": {"scale": {"x": "independent"}},
      "spec": {
        "width": 152.5, "height": 128.8,
        "encoding": {
          "x": {"field": "x", "type": "quantitative", "title": null, "scale": {"zero": false, "nice": false, "padding": 7}, "axis": {"labelPadding": 9, "labelOverlap": false, "values": {"expr": "domain('concat_6_child_x')[0] > 0.905 ? [0.92,0.93,0.94,0.95,0.96,0.97,0.98,0.99,1] : domain('concat_6_child_x')[0] > 0.8 ? [0.9,0.9125,0.925,0.9375,0.95,0.9625,0.975,0.9875] : domain('concat_6_child_x')[0] > 0.3 ? [0.4,0.5,0.6,0.7,0.8,0.9] : domain('concat_6_child_x')[0] < 0.12 ? [0.125,0.25,0.375,0.5,0.625,0.75,0.875] : domain('concat_6_child_x')[1] < 0.85 ? [0.2,0.3,0.4,0.5,0.6,0.7] : [0.2,0.3,0.4,0.5,0.6,0.7,0.8,0.9]"}, "labelExpr": "domain('concat_6_child_x')[0] > 0.905 ? (round(datum.value*100) % 2 == 0 ? format(datum.value, '.2f') : '') : domain('concat_6_child_x')[0] > 0.8 ? (round(datum.value*1000) % 25 == 0 ? format(datum.value, '.3f') : '') : domain('concat_6_child_x')[0] < 0.12 ? (round(datum.value*1000) % 250 == 0 ? format(datum.value, '.2f') : '') : (round(datum.value*10) % 2 == 0 ? format(datum.value, '.1f') : '')"}},
          "y": {"field": "y", "type": "quantitative", "title": null, "scale": {"domain": [0.045, 0.724], "nice": false, "zero": false}, "axis": {"values": [0.1, 0.2, 0.3, 0.4, 0.5, 0.6, 0.7], "labelExpr": "round(datum.value*10) % 2 == 0 ? format(datum.value, '.1f') : ''", "labelPadding": 7, "minExtent": 40, "maxExtent": 40}},
          "color": {"field": "k", "type": "nominal", "title": "Correlation", "scale": {"domain": ["phi", "qcr", "tet"], "range": ["#000000", "#E69F00", "#56B4E9"]}, "legend": {"orient": "none", "legendX": 506, "legendY": 1050, "zindex": 1}},
          "detail": {"field": "t"}
        },
        "layer": [
          {"mark": {"type": "errorband", "interpolate": "monotone", "band": {"opacity": 0.2}, "borders": false}, "encoding": {"yError": {"field": "w"}, "fill": {"field": "k", "type": "nominal", "title": "Correlation", "scale": {"range": ["#000000", "#E69F00", "#56B4E9"]}, "legend": {"orient": "none", "legendX": 506, "legendY": 1050, "zindex": 0, "symbolType": "square", "titleColor": "transparent", "labelColor": "transparent", "encode": {"symbols": {"update": {"opacity": {"value": 0.22}, "stroke": {"value": "transparent"}, "strokeWidth": {"value": 3}}}}}}}},
          {"mark": {"type": "line", "strokeWidth": 3, "interpolate": "monotone"}, "encoding": {
            "strokeDash": {"field": "t", "type": "nominal", "title": "Refactor type", "scale": {"domain": ["refact", "verifact"], "range": [[1, 0], [10, 6]]}, "legend": {"orient": "none", "legendX": 156, "legendY": 1050, "zindex": 1, "symbolStrokeColor": "#3366FF"}},
            "opacity": {"field": "t", "type": "nominal", "title": "Refactor type", "scale": {"range": [1, 1]}, "legend": {"orient": "none", "legendX": 156, "legendY": 1050, "zindex": 0, "symbolType": "square", "titleColor": "transparent", "labelColor": "transparent", "encode": {"symbols": {"update": {"fill": {"value": "#E3E3E3"}, "opacity": {"value": 1}, "stroke": {"value": "transparent"}, "strokeWidth": {"value": 3}}}}}}}}
        ]
      }
    }
  ]
}
